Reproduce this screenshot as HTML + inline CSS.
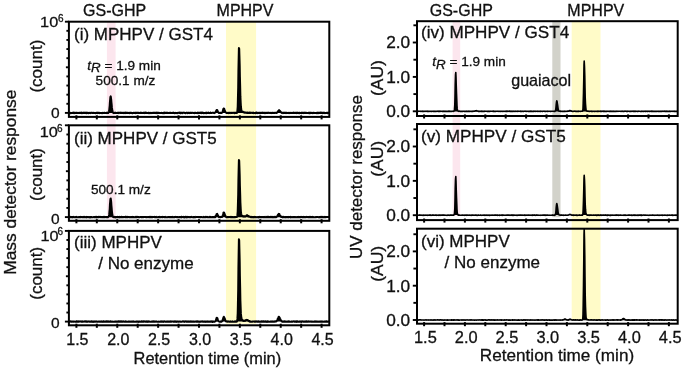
<!DOCTYPE html>
<html><head><meta charset="utf-8"><title>Chromatograms</title>
<style>
html,body{margin:0;padding:0;background:#fff;}
body{width:685px;height:371px;overflow:hidden;}
svg{display:block;will-change:transform;font-family:'Liberation Sans', Arial, Helvetica, sans-serif;fill:#111;} text{stroke:#111;stroke-width:0.3px;}
</style></head><body>
<svg width="685" height="371" viewBox="0 0 685 371">
<rect width="685" height="371" fill="#fff"/>
<rect x="226.0" y="21.7" width="30.1" height="302.1" fill="#fffbc8"/>
<rect x="106.9" y="21.7" width="8.7" height="197.6" fill="#fce6ee"/>
<rect x="571.7" y="21.2" width="28.8" height="298.6" fill="#fffbc8"/>
<rect x="452.6" y="21.2" width="7.6" height="194.8" fill="#fce6ee"/>
<rect x="552.3" y="21.2" width="8.2" height="196.0" fill="#d2d2ca"/>
<polyline fill="#000" stroke="#000" stroke-width="2.0" stroke-linejoin="round" points="68.9,112.99 69.2,113.07 69.4,112.82 69.7,113.11 69.9,112.88 70.2,112.97 70.4,113.12 70.7,112.90 70.9,113.13 71.2,112.93 71.4,113.12 71.7,113.10 71.9,112.94 72.2,112.74 72.4,113.09 72.7,113.04 72.9,112.84 73.2,112.68 73.4,112.86 73.7,112.95 73.9,112.66 74.2,113.13 74.4,112.72 74.7,113.01 74.9,113.08 75.2,113.09 75.4,113.00 75.7,112.74 75.9,113.06 76.2,112.86 76.4,112.83 76.7,112.96 76.9,112.88 77.2,113.12 77.4,113.12 77.7,113.05 77.9,112.81 78.2,112.94 78.4,112.99 78.7,112.86 78.9,112.92 79.2,113.00 79.4,112.75 79.7,112.80 79.9,113.03 80.2,112.86 80.4,112.89 80.7,112.71 80.9,112.79 81.2,113.01 81.4,112.66 81.7,113.09 81.9,112.94 82.2,112.77 82.4,113.07 82.7,112.91 82.9,113.13 83.2,112.82 83.4,112.77 83.7,112.86 83.9,112.71 84.2,112.99 84.4,112.80 84.7,112.85 84.9,112.86 85.2,112.92 85.4,112.73 85.7,112.68 85.9,112.91 86.2,112.82 86.4,113.12 86.7,112.80 86.9,112.83 87.2,112.65 87.4,112.74 87.7,113.01 87.9,112.96 88.2,112.82 88.4,113.14 88.7,112.92 88.9,113.07 89.2,113.09 89.4,113.12 89.7,112.77 89.9,113.09 90.2,113.03 90.4,112.95 90.7,112.71 90.9,113.11 91.2,112.93 91.4,112.88 91.7,112.71 91.9,112.74 92.2,112.72 92.4,113.01 92.7,112.94 92.9,112.97 93.2,112.71 93.4,112.67 93.7,113.07 93.9,113.06 94.2,113.03 94.4,113.03 94.7,112.91 94.9,112.86 95.2,113.02 95.4,113.15 95.7,112.94 95.9,112.97 96.2,112.87 96.4,112.67 96.7,112.80 96.9,112.89 97.2,112.84 97.4,112.81 97.7,113.12 97.9,112.70 98.2,112.76 98.4,112.71 98.7,112.75 98.9,112.95 99.2,112.95 99.4,113.10 99.7,112.83 99.9,113.12 100.2,113.12 100.4,113.05 100.7,113.07 100.9,112.98 101.2,113.12 101.4,113.15 101.7,113.07 101.9,113.10 102.2,112.97 102.4,113.14 102.7,112.71 102.9,112.84 103.2,113.08 103.4,113.02 103.7,112.98 103.9,112.97 104.2,113.09 104.4,112.73 104.7,112.65 104.9,112.92 105.2,112.91 105.4,113.11 105.7,113.10 105.9,112.98 106.2,113.02 106.4,112.74 106.7,113.07 106.9,113.14 107.2,112.67 107.4,112.88 107.7,113.07 107.9,112.85 108.2,113.06 108.4,112.66 108.7,112.10 108.9,111.45 109.2,110.26 109.4,108.43 109.7,105.57 109.9,102.39 110.2,98.98 110.4,96.96 110.7,96.29 110.9,97.45 111.2,99.57 111.4,102.01 111.7,104.79 111.9,107.42 112.2,109.46 112.4,110.87 112.7,111.80 112.9,112.57 113.2,112.68 113.4,112.89 113.7,113.10 113.9,113.13 114.2,113.01 114.4,113.02 114.7,112.80 114.9,112.67 115.2,112.93 115.4,112.68 115.7,112.66 115.9,112.67 116.2,112.97 116.4,113.04 116.7,113.04 116.9,113.05 117.2,113.05 117.4,112.84 117.7,112.70 117.9,112.73 118.2,112.91 118.4,112.82 118.7,112.75 118.9,113.11 119.2,112.82 119.4,112.70 119.7,112.76 119.9,112.77 120.2,112.91 120.4,113.06 120.7,112.76 120.9,112.98 121.2,112.75 121.4,112.66 121.7,112.95 121.9,112.95 122.2,112.68 122.4,112.79 122.7,113.06 122.9,113.09 123.2,113.07 123.4,112.70 123.7,112.75 123.9,113.08 124.2,112.74 124.4,112.66 124.7,112.82 124.9,112.97 125.2,112.88 125.4,113.08 125.7,113.14 125.9,112.66 126.2,112.83 126.4,112.89 126.7,112.68 126.9,112.93 127.2,112.71 127.4,112.74 127.7,113.04 127.9,113.02 128.2,113.00 128.4,113.03 128.7,112.86 128.9,113.02 129.2,112.94 129.4,113.08 129.7,112.69 129.9,112.97 130.2,112.92 130.4,112.86 130.7,112.70 130.9,112.94 131.2,112.69 131.4,112.90 131.7,112.88 131.9,112.89 132.2,113.14 132.4,112.93 132.7,113.06 132.9,113.15 133.2,112.75 133.4,113.06 133.7,112.91 133.9,112.79 134.2,112.87 134.4,112.99 134.7,112.89 134.9,112.87 135.2,112.76 135.4,113.10 135.7,112.87 135.9,113.03 136.2,113.01 136.4,112.76 136.7,112.90 136.9,112.87 137.2,112.77 137.4,112.69 137.7,112.93 137.9,112.84 138.2,112.90 138.4,112.89 138.7,112.80 138.9,112.92 139.2,112.88 139.4,112.91 139.7,112.68 139.9,112.80 140.2,112.71 140.4,112.68 140.7,113.02 140.9,112.87 141.2,112.68 141.4,112.73 141.7,113.08 141.9,113.09 142.2,112.93 142.4,113.11 142.7,113.03 142.9,113.11 143.2,112.82 143.4,112.76 143.7,112.70 143.9,113.07 144.2,112.79 144.4,112.82 144.7,113.08 144.9,112.71 145.2,112.67 145.4,113.04 145.7,112.67 145.9,112.95 146.2,112.91 146.4,112.66 146.7,112.73 146.9,113.07 147.2,112.93 147.4,112.89 147.7,112.98 147.9,113.05 148.2,112.99 148.4,112.79 148.7,113.14 148.9,112.87 149.2,112.93 149.4,113.14 149.7,112.98 149.9,112.84 150.2,112.89 150.4,113.12 150.7,112.66 150.9,112.76 151.2,112.66 151.4,113.10 151.7,113.02 151.9,113.13 152.2,112.76 152.4,113.01 152.7,113.09 152.9,112.94 153.2,112.69 153.4,112.74 153.7,113.02 153.9,113.08 154.2,112.69 154.4,112.86 154.7,112.80 154.9,113.11 155.2,113.12 155.4,112.81 155.7,112.94 155.9,113.11 156.2,112.68 156.4,112.83 156.7,112.75 156.9,113.11 157.2,112.72 157.4,113.12 157.7,112.72 157.9,112.92 158.2,112.98 158.4,112.87 158.7,112.69 158.9,113.02 159.2,113.09 159.4,112.89 159.7,113.03 159.9,113.10 160.2,113.07 160.4,113.12 160.7,113.05 160.9,112.99 161.2,113.00 161.4,112.77 161.7,113.01 161.9,112.90 162.2,113.06 162.4,112.98 162.7,113.14 162.9,113.02 163.2,113.14 163.4,112.78 163.7,112.87 163.9,113.06 164.2,112.91 164.4,112.68 164.7,113.10 164.9,112.74 165.2,112.93 165.4,112.90 165.7,112.73 165.9,112.95 166.2,112.90 166.4,112.81 166.7,112.66 166.9,112.98 167.2,112.73 167.4,112.80 167.7,112.83 167.9,112.95 168.2,112.98 168.4,113.12 168.7,113.09 168.9,113.11 169.2,112.78 169.4,113.02 169.7,113.07 169.9,113.11 170.2,112.73 170.4,112.71 170.7,112.81 170.9,113.01 171.2,113.03 171.4,113.00 171.7,112.92 171.9,113.07 172.2,112.93 172.4,113.02 172.7,112.67 172.9,112.66 173.2,112.88 173.4,113.03 173.7,112.67 173.9,113.00 174.2,112.97 174.4,113.15 174.7,112.96 174.9,112.91 175.2,112.90 175.4,113.05 175.7,112.90 175.9,113.15 176.2,113.02 176.4,113.11 176.7,112.95 176.9,113.13 177.2,113.14 177.4,113.00 177.7,113.03 177.9,112.86 178.2,112.89 178.4,112.77 178.7,112.82 178.9,112.79 179.2,112.71 179.4,112.96 179.7,112.99 179.9,112.66 180.2,113.08 180.4,112.79 180.7,112.83 180.9,113.13 181.2,112.73 181.4,112.70 181.7,112.84 181.9,112.78 182.2,112.74 182.4,113.08 182.7,112.89 182.9,112.90 183.2,112.73 183.4,112.75 183.7,112.74 183.9,112.86 184.2,112.70 184.4,112.81 184.7,112.80 184.9,113.04 185.2,113.13 185.4,113.08 185.7,112.97 185.9,113.10 186.2,112.73 186.4,112.87 186.7,112.84 186.9,112.84 187.2,112.81 187.4,112.91 187.7,113.15 187.9,112.75 188.2,112.78 188.4,112.90 188.7,112.88 188.9,112.82 189.2,113.12 189.4,112.78 189.7,113.02 189.9,113.11 190.2,113.02 190.4,112.79 190.7,113.05 190.9,112.78 191.2,112.66 191.4,112.90 191.7,112.96 191.9,112.91 192.2,112.81 192.4,112.77 192.7,112.84 192.9,112.83 193.2,113.11 193.4,113.08 193.7,113.02 193.9,112.78 194.2,113.00 194.4,112.87 194.7,113.14 194.9,113.12 195.2,113.02 195.4,112.81 195.7,112.80 195.9,112.81 196.2,113.00 196.4,112.89 196.7,112.92 196.9,112.92 197.2,113.09 197.4,112.70 197.7,113.05 197.9,112.66 198.2,112.68 198.4,113.14 198.7,112.92 198.9,112.74 199.2,112.67 199.4,112.93 199.7,113.02 199.9,113.05 200.2,112.68 200.4,113.04 200.7,112.86 200.9,113.08 201.2,112.89 201.4,112.67 201.7,113.08 201.9,112.74 202.2,112.90 202.4,112.71 202.7,112.80 202.9,113.03 203.2,112.70 203.4,112.91 203.7,113.14 203.9,113.15 204.2,112.90 204.4,112.92 204.7,113.00 204.9,113.08 205.2,112.98 205.4,112.99 205.7,112.73 205.9,113.15 206.2,112.77 206.4,112.73 206.7,113.09 206.9,112.69 207.2,112.79 207.4,112.70 207.7,113.01 207.9,112.96 208.2,112.95 208.4,112.65 208.7,112.86 208.9,112.97 209.2,112.94 209.4,113.01 209.7,113.13 209.9,113.10 210.2,112.73 210.4,113.01 210.7,112.68 210.9,113.03 211.2,113.02 211.4,112.89 211.7,113.06 211.9,112.96 212.2,112.67 212.4,112.71 212.7,112.74 212.9,112.83 213.2,112.69 213.4,112.68 213.7,112.88 213.9,112.79 214.2,113.12 214.4,112.78 214.7,112.90 214.9,112.70 215.2,112.64 215.4,112.60 215.7,112.35 215.9,111.37 216.2,111.14 216.4,110.37 216.7,110.05 216.9,110.02 217.2,110.05 217.4,110.39 217.7,111.30 217.9,111.64 218.2,112.26 218.4,112.46 218.7,112.74 218.9,112.97 219.2,113.03 219.4,113.03 219.7,112.69 219.9,112.90 220.2,113.04 220.4,112.70 220.7,112.65 220.9,112.92 221.2,113.06 221.4,113.00 221.7,112.98 221.9,112.71 222.2,112.57 222.4,112.06 222.7,111.42 222.9,110.48 223.2,109.47 223.4,108.80 223.7,108.52 223.9,108.47 224.2,108.70 224.4,109.32 224.7,110.04 224.9,110.92 225.2,111.48 225.4,111.67 225.7,112.49 225.9,112.57 226.2,112.66 226.4,112.64 226.7,113.00 226.9,113.00 227.2,113.02 227.4,112.95 227.7,112.93 227.9,112.67 228.2,112.73 228.4,112.71 228.7,113.14 228.9,113.13 229.2,112.80 229.4,112.70 229.7,112.91 229.9,112.86 230.2,113.15 230.4,112.95 230.7,112.69 230.9,112.74 231.2,112.72 231.4,112.66 231.7,113.03 231.9,113.10 232.2,113.07 232.4,112.89 232.7,112.81 232.9,112.68 233.2,112.79 233.4,112.83 233.7,112.77 233.9,112.92 234.2,112.87 234.4,113.13 234.7,112.76 234.9,113.03 235.2,112.69 235.4,112.83 235.7,113.00 235.9,113.09 236.2,113.02 236.4,112.82 236.7,112.75 236.9,112.88 237.2,112.35 237.4,110.53 237.7,106.71 237.9,99.32 238.2,87.33 238.4,71.65 238.7,57.04 238.9,48.05 239.2,48.61 239.4,54.92 239.7,65.29 239.9,76.76 240.2,87.81 240.4,96.66 240.7,102.86 240.9,106.45 241.2,108.86 241.4,110.31 241.7,111.12 241.9,111.27 242.2,111.42 242.4,111.73 242.7,111.96 242.9,111.88 243.2,111.86 243.4,112.31 243.7,112.49 243.9,112.41 244.2,112.44 244.4,112.37 244.7,112.66 244.9,112.41 245.2,112.48 245.4,112.63 245.7,112.81 245.9,112.46 246.2,112.81 246.4,112.58 246.7,112.89 246.9,112.91 247.2,112.66 247.4,112.90 247.7,112.59 247.9,112.83 248.2,112.99 248.4,112.98 248.7,112.89 248.9,112.77 249.2,112.63 249.4,113.04 249.7,112.92 249.9,113.02 250.2,112.64 250.4,113.06 250.7,113.10 250.9,113.10 251.2,112.94 251.4,112.69 251.7,112.70 251.9,112.77 252.2,112.64 252.4,112.68 252.7,112.98 252.9,113.05 253.2,112.68 253.4,112.77 253.7,113.13 253.9,112.81 254.2,112.96 254.4,112.96 254.7,112.98 254.9,113.06 255.2,113.15 255.4,113.01 255.7,112.97 255.9,112.67 256.1,113.09 256.4,112.67 256.6,113.05 256.9,112.97 257.1,112.74 257.4,112.74 257.6,112.93 257.9,113.12 258.1,112.91 258.4,112.96 258.6,112.69 258.9,113.05 259.1,112.97 259.4,112.70 259.6,113.13 259.9,112.94 260.1,112.74 260.4,112.77 260.6,113.13 260.9,113.13 261.1,113.12 261.4,112.69 261.6,113.02 261.9,112.78 262.1,112.70 262.4,112.98 262.6,113.01 262.9,112.67 263.1,112.84 263.4,113.02 263.6,112.79 263.9,112.99 264.1,113.01 264.4,113.15 264.6,112.77 264.9,112.69 265.1,112.83 265.4,112.68 265.6,113.14 265.9,113.03 266.1,112.91 266.4,112.67 266.6,112.67 266.9,112.96 267.1,113.02 267.4,112.94 267.6,112.90 267.9,112.69 268.1,113.06 268.4,112.75 268.6,112.78 268.9,112.74 269.1,112.76 269.4,112.85 269.6,112.99 269.9,112.99 270.1,112.97 270.4,112.76 270.6,113.11 270.9,113.05 271.1,112.77 271.4,113.03 271.6,113.12 271.9,113.13 272.1,112.87 272.4,112.99 272.6,112.66 272.9,112.71 273.1,112.66 273.4,113.02 273.6,113.11 273.9,113.10 274.1,112.90 274.4,112.80 274.6,112.93 274.9,113.03 275.1,112.94 275.4,112.84 275.6,112.80 275.9,112.75 276.1,112.68 276.4,112.73 276.6,112.93 276.9,112.44 277.1,112.53 277.4,112.14 277.6,111.92 277.9,111.36 278.1,111.24 278.4,110.85 278.6,110.58 278.9,110.49 279.1,110.13 279.4,110.41 279.6,110.77 279.9,111.04 280.1,111.08 280.4,111.66 280.6,112.11 280.9,112.08 281.1,112.37 281.4,112.36 281.6,112.92 281.9,112.80 282.1,112.68 282.4,112.70 282.6,112.68 282.9,113.12 283.1,113.00 283.4,113.09 283.6,113.05 283.9,112.66 284.1,112.86 284.4,112.68 284.6,112.96 284.9,112.72 285.1,112.93 285.4,113.02 285.6,112.76 285.9,112.68 286.1,113.10 286.4,112.85 286.6,112.84 286.9,113.04 287.1,112.97 287.4,113.08 287.6,113.05 287.9,113.02 288.1,112.85 288.4,112.82 288.6,113.05 288.9,113.14 289.1,112.99 289.4,112.81 289.6,113.06 289.9,112.99 290.1,113.05 290.4,112.75 290.6,112.88 290.9,113.12 291.1,113.10 291.4,112.95 291.6,112.87 291.9,112.83 292.1,113.10 292.4,113.07 292.6,112.80 292.9,112.95 293.1,113.01 293.4,113.00 293.6,112.67 293.9,112.99 294.1,112.87 294.4,112.97 294.6,112.94 294.9,112.72 295.1,112.65 295.4,112.97 295.6,113.05 295.9,112.79 296.1,113.05 296.4,113.15 296.6,112.70 296.9,112.94 297.1,112.74 297.4,112.95 297.6,112.71 297.9,112.92 298.1,113.07 298.4,113.14 298.6,112.87 298.9,112.83 299.1,112.70 299.4,113.11 299.6,112.84 299.9,112.96 300.1,112.90 300.4,113.08 300.6,113.01 300.9,112.89 301.1,112.69 301.4,113.10 301.6,112.90 301.9,112.75 302.1,112.67 302.4,113.05 302.6,113.09 302.9,112.68 303.1,112.66 303.4,112.91 303.6,113.12 303.9,112.69 304.1,112.96 304.4,112.70 304.6,112.84 304.9,112.74 305.1,113.07 305.4,112.76 305.6,113.04 305.9,112.95 306.1,112.73 306.4,112.74 306.6,113.06 306.9,113.04 307.1,112.95 307.4,112.89 307.6,112.96 307.9,113.09 308.1,113.03 308.4,112.79 308.6,112.70 308.9,113.13 309.1,112.87 309.4,112.77 309.6,113.13 309.9,112.73 310.1,113.09 310.4,112.85 310.6,112.87 310.9,112.84 311.1,113.00 311.4,112.94 311.6,112.86 311.9,112.94 312.1,112.82 312.4,112.93 312.6,112.93 312.9,113.14 313.1,112.84 313.4,112.91 313.6,113.03 313.9,112.77 314.1,112.76 314.4,112.92 314.6,113.06 314.9,112.91 315.1,113.10 315.4,113.09 315.6,112.93 315.9,113.10 316.1,112.93 316.4,112.89 316.6,113.13 316.9,112.83 317.1,113.11 317.4,112.78 317.6,112.76 317.9,112.89 318.1,113.12 318.4,112.90 318.6,112.96 318.9,112.67 319.1,113.08 319.4,112.72 319.6,112.65 319.9,112.78 320.1,112.74 320.4,113.05 320.6,112.66 320.9,112.90 321.1,112.67 321.4,112.69 321.6,113.07 321.9,112.76 322.1,112.68 322.4,113.12 322.6,112.97 322.9,112.77 323.1,113.07 323.4,112.70 323.6,113.01 323.9,112.74 324.1,113.08 324.4,112.90 324.6,112.69 324.9,113.05 325.1,113.02 325.4,112.90 325.6,112.99 325.9,113.13 326.1,113.06 326.4,113.07 326.6,112.68 326.9,112.81 327.1,112.70 327.4,113.07 327.6,112.76 327.9,113.09 328.1,112.88 328.4,112.83 328.6,112.97 328.9,112.71 329.1,112.87"/>
<polyline fill="#000" stroke="#000" stroke-width="2.0" stroke-linejoin="round" points="68.9,217.06 69.2,216.91 69.4,217.30 69.7,216.85 69.9,217.04 70.2,217.15 70.4,216.95 70.7,217.22 70.9,216.85 71.2,217.06 71.4,217.17 71.7,216.97 71.9,217.13 72.2,217.26 72.4,216.98 72.7,217.33 72.9,216.94 73.2,217.22 73.4,217.03 73.7,216.86 73.9,217.06 74.2,217.02 74.4,217.19 74.7,217.35 74.9,217.33 75.2,217.28 75.4,217.04 75.7,217.13 75.9,217.09 76.2,216.90 76.4,217.28 76.7,217.24 76.9,217.02 77.2,217.34 77.4,217.35 77.7,217.17 77.9,217.30 78.2,217.17 78.4,217.24 78.7,217.06 78.9,217.06 79.2,217.25 79.4,217.04 79.7,217.11 79.9,217.28 80.2,216.88 80.4,217.23 80.7,217.28 80.9,217.30 81.2,217.03 81.4,216.91 81.7,216.96 81.9,217.15 82.2,217.22 82.4,217.34 82.7,217.03 82.9,217.07 83.2,217.17 83.4,217.03 83.7,217.13 83.9,216.88 84.2,216.98 84.4,217.23 84.7,216.90 84.9,217.33 85.2,217.08 85.4,217.15 85.7,217.23 85.9,217.32 86.2,216.96 86.4,217.34 86.7,217.07 86.9,216.88 87.2,217.28 87.4,217.25 87.7,217.05 87.9,217.10 88.2,217.03 88.4,216.94 88.7,217.26 88.9,217.20 89.2,217.20 89.4,217.33 89.7,216.91 89.9,216.96 90.2,216.99 90.4,217.35 90.7,216.93 90.9,216.98 91.2,217.12 91.4,216.98 91.7,217.12 91.9,217.24 92.2,217.30 92.4,217.23 92.7,217.33 92.9,217.18 93.2,216.98 93.4,217.00 93.7,216.93 93.9,216.99 94.2,217.22 94.4,217.07 94.7,217.13 94.9,216.96 95.2,217.09 95.4,217.22 95.7,217.03 95.9,216.87 96.2,217.24 96.4,216.91 96.7,217.34 96.9,217.22 97.2,217.23 97.4,216.98 97.7,216.88 97.9,216.98 98.2,217.19 98.4,216.91 98.7,217.19 98.9,217.23 99.2,216.90 99.4,217.03 99.7,217.00 99.9,217.02 100.2,216.86 100.4,217.12 100.7,216.93 100.9,217.00 101.2,216.92 101.4,217.13 101.7,216.99 101.9,217.06 102.2,217.20 102.4,217.24 102.7,217.04 102.9,217.31 103.2,216.89 103.4,217.28 103.7,217.34 103.9,217.30 104.2,216.89 104.4,217.18 104.7,217.28 104.9,217.34 105.2,217.33 105.4,217.00 105.7,217.03 105.9,217.00 106.2,216.98 106.4,217.32 106.7,217.05 106.9,217.17 107.2,216.94 107.4,216.94 107.7,216.90 107.9,217.29 108.2,216.83 108.4,216.64 108.7,216.25 108.9,215.88 109.2,214.39 109.4,212.15 109.7,209.04 109.9,204.96 110.2,201.49 110.4,199.18 110.7,198.47 110.9,199.62 111.2,202.11 111.4,205.27 111.7,208.48 111.9,211.03 112.2,213.57 112.4,215.09 112.7,216.04 112.9,216.81 113.2,216.99 113.4,217.11 113.7,216.96 113.9,217.15 114.2,217.19 114.4,216.87 114.7,217.10 114.9,216.92 115.2,217.04 115.4,217.33 115.7,217.14 115.9,217.13 116.2,216.96 116.4,217.18 116.7,217.00 116.9,217.08 117.2,217.24 117.4,216.92 117.7,217.30 117.9,216.94 118.2,217.26 118.4,217.35 118.7,217.25 118.9,216.97 119.2,216.86 119.4,217.35 119.7,217.10 119.9,217.10 120.2,216.95 120.4,217.26 120.7,217.10 120.9,217.18 121.2,216.93 121.4,217.22 121.7,216.88 121.9,217.21 122.2,217.24 122.4,217.00 122.7,217.10 122.9,217.30 123.2,217.03 123.4,217.31 123.7,216.96 123.9,217.00 124.2,216.96 124.4,217.04 124.7,217.17 124.9,217.15 125.2,217.15 125.4,216.90 125.7,217.31 125.9,216.91 126.2,217.34 126.4,217.25 126.7,217.22 126.9,216.90 127.2,217.10 127.4,217.16 127.7,216.91 127.9,217.23 128.2,217.12 128.4,217.08 128.7,216.97 128.9,216.97 129.2,217.03 129.4,217.18 129.7,217.19 129.9,217.27 130.2,216.93 130.4,217.02 130.7,216.98 130.9,217.27 131.2,217.13 131.4,216.96 131.7,217.06 131.9,217.29 132.2,217.12 132.4,216.91 132.7,217.23 132.9,217.25 133.2,217.20 133.4,217.00 133.7,216.93 133.9,217.27 134.2,217.27 134.4,217.23 134.7,217.19 134.9,217.09 135.2,217.27 135.4,217.19 135.7,217.26 135.9,216.86 136.2,216.99 136.4,217.30 136.7,216.87 136.9,217.30 137.2,217.16 137.4,216.86 137.7,216.95 137.9,216.98 138.2,217.13 138.4,217.25 138.7,217.03 138.9,217.30 139.2,217.25 139.4,217.16 139.7,217.33 139.9,217.15 140.2,216.95 140.4,217.00 140.7,217.10 140.9,217.03 141.2,217.12 141.4,217.28 141.7,217.05 141.9,217.15 142.2,216.98 142.4,216.90 142.7,217.13 142.9,217.06 143.2,216.98 143.4,217.14 143.7,217.24 143.9,216.99 144.2,216.91 144.4,216.96 144.7,217.00 144.9,216.92 145.2,217.01 145.4,217.03 145.7,217.12 145.9,217.19 146.2,217.04 146.4,217.30 146.7,217.14 146.9,216.96 147.2,216.99 147.4,217.04 147.7,217.22 147.9,217.14 148.2,217.12 148.4,217.04 148.7,217.15 148.9,217.01 149.2,216.88 149.4,217.26 149.7,217.02 149.9,216.96 150.2,217.16 150.4,217.11 150.7,216.86 150.9,217.33 151.2,217.08 151.4,217.27 151.7,216.96 151.9,216.88 152.2,217.09 152.4,217.30 152.7,217.06 152.9,217.08 153.2,216.99 153.4,217.09 153.7,217.03 153.9,216.94 154.2,217.09 154.4,217.14 154.7,216.88 154.9,217.24 155.2,217.01 155.4,217.15 155.7,216.97 155.9,217.29 156.2,216.86 156.4,217.17 156.7,217.32 156.9,217.21 157.2,217.15 157.4,217.34 157.7,217.14 157.9,217.14 158.2,217.00 158.4,217.17 158.7,217.22 158.9,217.24 159.2,216.98 159.4,216.88 159.7,217.09 159.9,217.24 160.2,216.95 160.4,217.15 160.7,217.24 160.9,217.29 161.2,216.96 161.4,216.95 161.7,217.03 161.9,217.12 162.2,217.07 162.4,217.24 162.7,216.87 162.9,217.17 163.2,217.03 163.4,216.94 163.7,216.94 163.9,217.12 164.2,217.20 164.4,217.08 164.7,217.29 164.9,216.93 165.2,217.17 165.4,216.92 165.7,217.22 165.9,217.16 166.2,217.22 166.4,217.14 166.7,217.26 166.9,217.35 167.2,216.99 167.4,217.21 167.7,217.23 167.9,217.20 168.2,217.11 168.4,217.14 168.7,217.03 168.9,217.02 169.2,217.17 169.4,216.89 169.7,216.92 169.9,217.32 170.2,216.94 170.4,216.90 170.7,216.96 170.9,217.28 171.2,216.93 171.4,217.03 171.7,217.34 171.9,217.34 172.2,216.87 172.4,217.02 172.7,217.22 172.9,217.30 173.2,217.28 173.4,217.23 173.7,216.96 173.9,217.18 174.2,217.27 174.4,216.90 174.7,216.95 174.9,217.27 175.2,216.90 175.4,217.05 175.7,216.96 175.9,217.02 176.2,216.90 176.4,216.96 176.7,216.93 176.9,217.25 177.2,217.00 177.4,217.08 177.7,216.98 177.9,217.13 178.2,216.91 178.4,217.07 178.7,217.22 178.9,217.23 179.2,217.28 179.4,217.10 179.7,217.32 179.9,217.12 180.2,217.28 180.4,217.10 180.7,217.10 180.9,217.08 181.2,216.92 181.4,217.35 181.7,216.93 181.9,217.12 182.2,217.07 182.4,217.02 182.7,216.93 182.9,217.16 183.2,217.14 183.4,216.87 183.7,217.31 183.9,217.03 184.2,217.03 184.4,217.34 184.7,217.05 184.9,217.01 185.2,216.88 185.4,217.18 185.7,216.86 185.9,217.09 186.2,217.11 186.4,216.90 186.7,217.33 186.9,216.99 187.2,217.04 187.4,217.18 187.7,216.92 187.9,217.17 188.2,217.11 188.4,217.09 188.7,216.96 188.9,217.24 189.2,217.13 189.4,217.14 189.7,217.07 189.9,216.94 190.2,217.20 190.4,216.94 190.7,217.15 190.9,217.10 191.2,217.21 191.4,217.10 191.7,216.86 191.9,217.02 192.2,216.95 192.4,217.18 192.7,217.19 192.9,217.20 193.2,217.06 193.4,217.03 193.7,216.96 193.9,217.33 194.2,216.99 194.4,216.91 194.7,217.08 194.9,217.33 195.2,217.20 195.4,217.35 195.7,217.26 195.9,216.89 196.2,217.05 196.4,217.02 196.7,216.96 196.9,216.90 197.2,217.04 197.4,217.04 197.7,217.04 197.9,217.00 198.2,217.05 198.4,217.01 198.7,217.24 198.9,217.02 199.2,217.12 199.4,216.97 199.7,217.30 199.9,217.26 200.2,217.33 200.4,216.96 200.7,216.89 200.9,217.02 201.2,217.17 201.4,216.94 201.7,216.96 201.9,217.07 202.2,217.22 202.4,217.20 202.7,217.14 202.9,217.19 203.2,217.13 203.4,217.03 203.7,216.88 203.9,217.32 204.2,217.07 204.4,217.33 204.7,217.29 204.9,216.94 205.2,217.06 205.4,216.89 205.7,217.13 205.9,217.34 206.2,217.16 206.4,217.05 206.7,216.88 206.9,216.86 207.2,217.11 207.4,217.14 207.7,217.30 207.9,217.03 208.2,217.24 208.4,217.27 208.7,217.34 208.9,217.35 209.2,217.01 209.4,217.29 209.7,216.87 209.9,217.31 210.2,216.92 210.4,217.29 210.7,217.34 210.9,216.99 211.2,217.23 211.4,216.98 211.7,217.26 211.9,217.32 212.2,216.96 212.4,216.99 212.7,216.92 212.9,216.99 213.2,217.31 213.4,217.04 213.7,217.00 213.9,217.12 214.2,216.88 214.4,217.22 214.7,216.85 214.9,216.94 215.2,217.20 215.4,217.02 215.7,216.37 215.9,215.79 216.2,215.51 216.4,214.71 216.7,213.98 216.9,214.07 217.2,213.87 217.4,214.47 217.7,215.25 217.9,215.69 218.2,216.10 218.4,216.57 218.7,216.71 218.9,217.13 219.2,216.89 219.4,217.14 219.7,217.02 219.9,217.03 220.2,217.14 220.4,217.16 220.7,216.95 220.9,216.87 221.2,216.94 221.4,217.02 221.7,217.08 221.9,217.05 222.2,216.31 222.4,216.00 222.7,215.30 222.9,214.74 223.2,213.74 223.4,212.80 223.7,212.41 223.9,212.48 224.2,212.92 224.4,213.42 224.7,213.90 224.9,214.91 225.2,215.44 225.4,216.04 225.7,216.29 225.9,216.61 226.2,217.03 226.4,217.26 226.7,217.18 226.9,217.12 227.2,217.05 227.4,216.94 227.7,216.91 227.9,217.33 228.2,216.93 228.4,216.94 228.7,216.92 228.9,217.06 229.2,217.21 229.4,216.92 229.7,216.95 229.9,217.01 230.2,216.89 230.4,217.18 230.7,217.31 230.9,217.07 231.2,216.95 231.4,217.25 231.7,216.97 231.9,216.88 232.2,217.23 232.4,217.05 232.7,217.01 232.9,217.12 233.2,217.25 233.4,217.22 233.7,216.97 233.9,216.95 234.2,217.12 234.4,217.31 234.7,216.95 234.9,216.96 235.2,217.23 235.4,217.06 235.7,216.90 235.9,216.91 236.2,217.09 236.4,217.10 236.7,217.01 236.9,217.07 237.2,216.58 237.4,215.18 237.7,211.58 237.9,205.15 238.2,194.41 238.4,180.84 238.7,167.63 238.9,160.03 239.2,160.64 239.4,165.95 239.7,175.26 239.9,185.61 240.2,194.91 240.4,202.53 240.7,208.31 240.9,211.56 241.2,213.71 241.4,214.72 241.7,215.56 241.9,215.89 242.2,215.63 242.4,215.85 242.7,216.17 242.9,216.23 243.2,216.48 243.4,216.29 243.7,216.53 243.9,216.31 244.2,216.41 244.4,216.37 244.7,216.25 244.9,216.52 245.2,216.51 245.4,216.28 245.7,216.12 245.9,215.99 246.2,215.85 246.4,215.46 246.7,215.22 246.9,215.41 247.2,215.20 247.4,215.31 247.7,215.86 247.9,215.75 248.2,216.03 248.4,216.35 248.7,216.11 248.9,216.62 249.2,216.61 249.4,216.69 249.7,216.62 249.9,216.84 250.2,217.03 250.4,217.04 250.7,217.21 250.9,216.83 251.2,216.83 251.4,217.22 251.7,217.32 251.9,217.21 252.2,217.16 252.4,216.89 252.7,216.89 252.9,216.93 253.2,217.32 253.4,216.95 253.7,216.99 253.9,217.02 254.2,216.85 254.4,217.32 254.7,217.28 254.9,216.97 255.2,216.88 255.4,217.01 255.7,217.20 255.9,217.05 256.1,216.97 256.4,217.30 256.6,217.19 256.9,217.22 257.1,217.29 257.4,217.11 257.6,217.27 257.9,217.23 258.1,217.28 258.4,217.01 258.6,217.34 258.9,216.99 259.1,217.25 259.4,217.33 259.6,216.89 259.9,217.24 260.1,216.88 260.4,216.92 260.6,216.91 260.9,217.28 261.1,217.13 261.4,217.30 261.6,216.89 261.9,216.93 262.1,217.04 262.4,217.12 262.6,217.18 262.9,216.94 263.1,217.11 263.4,217.04 263.6,217.28 263.9,217.24 264.1,217.32 264.4,216.99 264.6,217.07 264.9,217.28 265.1,216.91 265.4,217.22 265.6,217.14 265.9,217.27 266.1,217.21 266.4,216.93 266.6,217.18 266.9,217.27 267.1,217.10 267.4,217.19 267.6,216.90 267.9,217.29 268.1,216.86 268.4,217.32 268.6,216.90 268.9,217.02 269.1,217.24 269.4,217.11 269.6,217.21 269.9,217.22 270.1,217.25 270.4,217.17 270.6,216.85 270.9,216.85 271.1,216.89 271.4,217.30 271.6,217.21 271.9,216.90 272.1,217.32 272.4,216.99 272.6,217.20 272.9,216.86 273.1,217.34 273.4,216.95 273.6,217.18 273.9,217.28 274.1,217.35 274.4,216.93 274.6,217.09 274.9,217.26 275.1,217.13 275.4,216.88 275.6,217.22 275.9,217.02 276.1,217.19 276.4,217.08 276.6,216.65 276.9,216.47 277.1,216.43 277.4,216.11 277.6,215.65 277.9,214.91 278.1,214.51 278.4,214.26 278.6,214.08 278.9,213.86 279.1,213.94 279.4,214.15 279.6,214.62 279.9,215.22 280.1,215.71 280.4,215.77 280.6,216.27 280.9,216.39 281.1,216.93 281.4,216.70 281.6,217.03 281.9,216.84 282.1,216.87 282.4,217.08 282.6,217.33 282.9,216.89 283.1,217.11 283.4,216.91 283.6,217.22 283.9,217.26 284.1,216.93 284.4,217.17 284.6,217.27 284.9,217.16 285.1,217.05 285.4,217.35 285.6,217.09 285.9,217.13 286.1,217.09 286.4,217.29 286.6,216.99 286.9,216.94 287.1,216.92 287.4,217.19 287.6,216.99 287.9,217.16 288.1,216.97 288.4,217.32 288.6,216.91 288.9,216.87 289.1,217.10 289.4,217.09 289.6,217.08 289.9,217.08 290.1,217.34 290.4,216.87 290.6,217.24 290.9,217.26 291.1,217.30 291.4,217.22 291.6,216.94 291.9,217.33 292.1,217.30 292.4,217.00 292.6,217.25 292.9,217.34 293.1,217.05 293.4,217.06 293.6,217.09 293.9,217.00 294.1,217.30 294.4,216.92 294.6,216.99 294.9,217.33 295.1,217.29 295.4,217.10 295.6,217.10 295.9,217.21 296.1,217.29 296.4,217.15 296.6,217.28 296.9,217.05 297.1,216.92 297.4,217.28 297.6,217.06 297.9,216.98 298.1,217.27 298.4,216.94 298.6,216.88 298.9,217.16 299.1,217.14 299.4,216.93 299.6,217.09 299.9,217.15 300.1,216.88 300.4,216.96 300.6,217.18 300.9,217.23 301.1,217.18 301.4,217.13 301.6,216.86 301.9,216.95 302.1,216.89 302.4,216.94 302.6,216.93 302.9,217.32 303.1,217.09 303.4,216.87 303.6,216.88 303.9,217.23 304.1,217.14 304.4,217.03 304.6,217.17 304.9,217.08 305.1,217.32 305.4,217.13 305.6,217.10 305.9,217.34 306.1,217.28 306.4,216.87 306.6,216.96 306.9,216.88 307.1,217.03 307.4,216.95 307.6,216.91 307.9,216.91 308.1,217.33 308.4,217.03 308.6,217.22 308.9,217.01 309.1,217.21 309.4,217.08 309.6,216.89 309.9,217.04 310.1,217.22 310.4,217.09 310.6,217.13 310.9,216.87 311.1,217.21 311.4,217.20 311.6,217.03 311.9,217.29 312.1,217.05 312.4,216.87 312.6,217.09 312.9,217.22 313.1,217.12 313.4,217.08 313.6,217.28 313.9,217.29 314.1,217.28 314.4,217.20 314.6,217.15 314.9,217.21 315.1,217.23 315.4,217.31 315.6,217.08 315.9,216.93 316.1,217.05 316.4,217.06 316.6,217.02 316.9,217.25 317.1,216.99 317.4,217.12 317.6,217.08 317.9,217.04 318.1,217.12 318.4,217.19 318.6,217.23 318.9,217.24 319.1,217.09 319.4,217.16 319.6,217.06 319.9,217.34 320.1,217.17 320.4,216.92 320.6,217.23 320.9,217.07 321.1,217.10 321.4,217.21 321.6,216.86 321.9,217.20 322.1,216.96 322.4,217.27 322.6,217.32 322.9,216.91 323.1,217.13 323.4,217.32 323.6,217.16 323.9,217.13 324.1,216.98 324.4,217.30 324.6,217.24 324.9,216.87 325.1,216.98 325.4,217.27 325.6,217.18 325.9,217.17 326.1,217.01 326.4,217.04 326.6,216.93 326.9,216.94 327.1,217.09 327.4,216.98 327.6,216.98 327.9,216.97 328.1,217.11 328.4,216.96 328.6,217.00 328.9,216.89 329.1,217.29"/>
<polyline fill="#000" stroke="#000" stroke-width="2.0" stroke-linejoin="round" points="68.9,321.41 69.2,321.85 69.4,321.47 69.7,321.56 69.9,321.60 70.2,321.37 70.4,321.56 70.7,321.64 70.9,321.46 71.2,321.41 71.4,321.55 71.7,321.66 71.9,321.62 72.2,321.62 72.4,321.49 72.7,321.70 72.9,321.65 73.2,321.57 73.4,321.66 73.7,321.69 73.9,321.46 74.2,321.43 74.4,321.60 74.7,321.63 74.9,321.76 75.2,321.70 75.4,321.78 75.7,321.56 75.9,321.56 76.2,321.81 76.4,321.39 76.7,321.69 76.9,321.43 77.2,321.43 77.4,321.37 77.7,321.75 77.9,321.64 78.2,321.39 78.4,321.84 78.7,321.83 78.9,321.57 79.2,321.60 79.4,321.39 79.7,321.46 79.9,321.58 80.2,321.35 80.4,321.59 80.7,321.59 80.9,321.51 81.2,321.66 81.4,321.67 81.7,321.55 81.9,321.67 82.2,321.38 82.4,321.51 82.7,321.59 82.9,321.80 83.2,321.66 83.4,321.65 83.7,321.57 83.9,321.56 84.2,321.41 84.4,321.37 84.7,321.61 84.9,321.63 85.2,321.54 85.4,321.35 85.7,321.68 85.9,321.58 86.2,321.44 86.4,321.76 86.7,321.69 86.9,321.36 87.2,321.44 87.4,321.59 87.7,321.79 87.9,321.40 88.2,321.51 88.4,321.44 88.7,321.35 88.9,321.41 89.2,321.64 89.4,321.77 89.7,321.71 89.9,321.59 90.2,321.60 90.4,321.76 90.7,321.76 90.9,321.53 91.2,321.55 91.4,321.67 91.7,321.35 91.9,321.53 92.2,321.83 92.4,321.64 92.7,321.46 92.9,321.70 93.2,321.50 93.4,321.85 93.7,321.70 93.9,321.43 94.2,321.56 94.4,321.52 94.7,321.75 94.9,321.60 95.2,321.57 95.4,321.72 95.7,321.53 95.9,321.58 96.2,321.35 96.4,321.56 96.7,321.64 96.9,321.79 97.2,321.77 97.4,321.47 97.7,321.80 97.9,321.80 98.2,321.76 98.4,321.59 98.7,321.44 98.9,321.54 99.2,321.45 99.4,321.82 99.7,321.84 99.9,321.46 100.2,321.69 100.4,321.49 100.7,321.67 100.9,321.77 101.2,321.72 101.4,321.80 101.7,321.40 101.9,321.56 102.2,321.68 102.4,321.63 102.7,321.66 102.9,321.82 103.2,321.40 103.4,321.56 103.7,321.37 103.9,321.63 104.2,321.54 104.4,321.73 104.7,321.83 104.9,321.38 105.2,321.42 105.4,321.69 105.7,321.40 105.9,321.44 106.2,321.70 106.4,321.55 106.7,321.37 106.9,321.60 107.2,321.38 107.4,321.73 107.7,321.66 107.9,321.49 108.2,321.74 108.4,321.70 108.7,321.41 108.9,321.61 109.2,321.45 109.4,321.73 109.7,321.76 109.9,321.67 110.2,321.76 110.4,321.36 110.7,321.70 110.9,321.57 111.2,321.79 111.4,321.58 111.7,321.66 111.9,321.65 112.2,321.82 112.4,321.79 112.7,321.44 112.9,321.67 113.2,321.73 113.4,321.75 113.7,321.71 113.9,321.73 114.2,321.83 114.4,321.52 114.7,321.68 114.9,321.77 115.2,321.50 115.4,321.80 115.7,321.72 115.9,321.43 116.2,321.79 116.4,321.63 116.7,321.43 116.9,321.45 117.2,321.77 117.4,321.67 117.7,321.49 117.9,321.66 118.2,321.37 118.4,321.75 118.7,321.37 118.9,321.60 119.2,321.74 119.4,321.62 119.7,321.78 119.9,321.50 120.2,321.72 120.4,321.40 120.7,321.56 120.9,321.67 121.2,321.73 121.4,321.55 121.7,321.74 121.9,321.41 122.2,321.79 122.4,321.59 122.7,321.58 122.9,321.71 123.2,321.46 123.4,321.66 123.7,321.52 123.9,321.57 124.2,321.69 124.4,321.66 124.7,321.81 124.9,321.76 125.2,321.42 125.4,321.69 125.7,321.52 125.9,321.80 126.2,321.57 126.4,321.67 126.7,321.60 126.9,321.70 127.2,321.82 127.4,321.69 127.7,321.74 127.9,321.79 128.2,321.49 128.4,321.71 128.7,321.65 128.9,321.40 129.2,321.46 129.4,321.41 129.7,321.42 129.9,321.78 130.2,321.71 130.4,321.84 130.7,321.51 130.9,321.52 131.2,321.67 131.4,321.64 131.7,321.52 131.9,321.50 132.2,321.73 132.4,321.43 132.7,321.67 132.9,321.54 133.2,321.76 133.4,321.79 133.7,321.39 133.9,321.48 134.2,321.49 134.4,321.83 134.7,321.83 134.9,321.77 135.2,321.75 135.4,321.70 135.7,321.66 135.9,321.83 136.2,321.69 136.4,321.53 136.7,321.76 136.9,321.43 137.2,321.56 137.4,321.49 137.7,321.72 137.9,321.63 138.2,321.51 138.4,321.68 138.7,321.85 138.9,321.43 139.2,321.46 139.4,321.71 139.7,321.83 139.9,321.42 140.2,321.55 140.4,321.83 140.7,321.73 140.9,321.79 141.2,321.45 141.4,321.74 141.7,321.39 141.9,321.48 142.2,321.81 142.4,321.50 142.7,321.65 142.9,321.48 143.2,321.44 143.4,321.71 143.7,321.81 143.9,321.38 144.2,321.64 144.4,321.38 144.7,321.50 144.9,321.48 145.2,321.44 145.4,321.54 145.7,321.62 145.9,321.82 146.2,321.50 146.4,321.64 146.7,321.59 146.9,321.39 147.2,321.79 147.4,321.47 147.7,321.83 147.9,321.50 148.2,321.45 148.4,321.72 148.7,321.58 148.9,321.37 149.2,321.53 149.4,321.58 149.7,321.73 149.9,321.82 150.2,321.67 150.4,321.64 150.7,321.75 150.9,321.69 151.2,321.78 151.4,321.50 151.7,321.51 151.9,321.73 152.2,321.73 152.4,321.59 152.7,321.63 152.9,321.38 153.2,321.67 153.4,321.70 153.7,321.41 153.9,321.78 154.2,321.57 154.4,321.68 154.7,321.44 154.9,321.58 155.2,321.47 155.4,321.77 155.7,321.52 155.9,321.55 156.2,321.62 156.4,321.47 156.7,321.43 156.9,321.79 157.2,321.71 157.4,321.67 157.7,321.75 157.9,321.82 158.2,321.71 158.4,321.75 158.7,321.50 158.9,321.63 159.2,321.79 159.4,321.69 159.7,321.62 159.9,321.67 160.2,321.77 160.4,321.81 160.7,321.84 160.9,321.35 161.2,321.47 161.4,321.81 161.7,321.49 161.9,321.36 162.2,321.57 162.4,321.80 162.7,321.61 162.9,321.63 163.2,321.76 163.4,321.58 163.7,321.85 163.9,321.39 164.2,321.53 164.4,321.54 164.7,321.38 164.9,321.52 165.2,321.72 165.4,321.73 165.7,321.78 165.9,321.84 166.2,321.46 166.4,321.43 166.7,321.70 166.9,321.76 167.2,321.53 167.4,321.43 167.7,321.39 167.9,321.77 168.2,321.46 168.4,321.43 168.7,321.48 168.9,321.69 169.2,321.76 169.4,321.44 169.7,321.69 169.9,321.67 170.2,321.57 170.4,321.67 170.7,321.43 170.9,321.73 171.2,321.83 171.4,321.57 171.7,321.54 171.9,321.44 172.2,321.50 172.4,321.40 172.7,321.38 172.9,321.60 173.2,321.60 173.4,321.77 173.7,321.70 173.9,321.56 174.2,321.81 174.4,321.51 174.7,321.77 174.9,321.63 175.2,321.37 175.4,321.81 175.7,321.83 175.9,321.63 176.2,321.75 176.4,321.49 176.7,321.85 176.9,321.43 177.2,321.42 177.4,321.46 177.7,321.64 177.9,321.71 178.2,321.52 178.4,321.59 178.7,321.64 178.9,321.68 179.2,321.63 179.4,321.52 179.7,321.44 179.9,321.40 180.2,321.77 180.4,321.70 180.7,321.63 180.9,321.57 181.2,321.68 181.4,321.75 181.7,321.81 181.9,321.69 182.2,321.62 182.4,321.36 182.7,321.40 182.9,321.42 183.2,321.36 183.4,321.37 183.7,321.54 183.9,321.44 184.2,321.82 184.4,321.51 184.7,321.55 184.9,321.70 185.2,321.56 185.4,321.37 185.7,321.61 185.9,321.53 186.2,321.70 186.4,321.68 186.7,321.41 186.9,321.84 187.2,321.76 187.4,321.51 187.7,321.63 187.9,321.81 188.2,321.52 188.4,321.66 188.7,321.56 188.9,321.64 189.2,321.59 189.4,321.57 189.7,321.65 189.9,321.79 190.2,321.76 190.4,321.41 190.7,321.58 190.9,321.79 191.2,321.42 191.4,321.72 191.7,321.80 191.9,321.58 192.2,321.72 192.4,321.61 192.7,321.57 192.9,321.74 193.2,321.56 193.4,321.79 193.7,321.59 193.9,321.56 194.2,321.81 194.4,321.65 194.7,321.81 194.9,321.63 195.2,321.42 195.4,321.57 195.7,321.49 195.9,321.47 196.2,321.79 196.4,321.35 196.7,321.49 196.9,321.80 197.2,321.43 197.4,321.65 197.7,321.76 197.9,321.37 198.2,321.57 198.4,321.46 198.7,321.78 198.9,321.46 199.2,321.82 199.4,321.73 199.7,321.66 199.9,321.84 200.2,321.55 200.4,321.74 200.7,321.70 200.9,321.50 201.2,321.64 201.4,321.41 201.7,321.54 201.9,321.41 202.2,321.57 202.4,321.39 202.7,321.41 202.9,321.77 203.2,321.48 203.4,321.68 203.7,321.47 203.9,321.51 204.2,321.44 204.4,321.79 204.7,321.66 204.9,321.48 205.2,321.38 205.4,321.49 205.7,321.83 205.9,321.55 206.2,321.80 206.4,321.58 206.7,321.45 206.9,321.79 207.2,321.39 207.4,321.51 207.7,321.72 207.9,321.75 208.2,321.63 208.4,321.43 208.7,321.56 208.9,321.79 209.2,321.84 209.4,321.79 209.7,321.45 209.9,321.76 210.2,321.57 210.4,321.70 210.7,321.51 210.9,321.66 211.2,321.78 211.4,321.41 211.7,321.58 211.9,321.51 212.2,321.45 212.4,321.38 212.7,321.84 212.9,321.68 213.2,321.77 213.4,321.60 213.7,321.41 213.9,321.45 214.2,321.83 214.4,321.75 214.7,321.42 214.9,321.44 215.2,321.48 215.4,321.21 215.7,320.96 215.9,319.99 216.2,319.40 216.4,318.31 216.7,317.79 216.9,317.81 217.2,317.87 217.4,318.44 217.7,318.81 217.9,319.71 218.2,320.63 218.4,321.06 218.7,321.29 218.9,321.43 219.2,321.48 219.4,321.62 219.7,321.66 219.9,321.84 220.2,321.56 220.4,321.68 220.7,321.84 220.9,321.61 221.2,321.34 221.4,321.78 221.7,321.65 221.9,321.24 222.2,321.17 222.4,320.72 222.7,319.96 222.9,319.28 223.2,318.26 223.4,317.53 223.7,316.85 223.9,316.78 224.2,317.55 224.4,317.85 224.7,318.46 224.9,319.16 225.2,319.90 225.4,320.52 225.7,320.92 225.9,321.33 226.2,321.53 226.4,321.37 226.7,321.38 226.9,321.36 227.2,321.50 227.4,321.70 227.7,321.47 227.9,321.48 228.2,321.60 228.4,321.53 228.7,321.67 228.9,321.57 229.2,321.65 229.4,321.82 229.7,321.68 229.9,321.69 230.2,321.36 230.4,321.61 230.7,321.67 230.9,321.73 231.2,321.73 231.4,321.68 231.7,321.78 231.9,321.85 232.2,321.41 232.4,321.62 232.7,321.63 232.9,321.57 233.2,321.70 233.4,321.77 233.7,321.82 233.9,321.70 234.2,321.70 234.4,321.49 234.7,321.57 234.9,321.38 235.2,321.68 235.4,321.39 235.7,321.56 235.9,321.81 236.2,321.76 236.4,321.55 236.7,321.29 236.9,321.40 237.2,320.49 237.4,318.65 237.7,313.61 237.9,304.51 238.2,288.98 238.4,269.12 238.7,250.51 238.9,239.30 239.2,240.23 239.4,248.49 239.7,261.39 239.9,275.89 240.2,289.89 240.4,300.88 240.7,308.85 240.9,313.65 241.2,316.43 241.4,318.12 241.7,319.19 241.9,319.41 242.2,319.60 242.4,320.01 242.7,320.46 242.9,320.25 243.2,320.35 243.4,320.73 243.7,320.92 243.9,320.97 244.2,320.83 244.4,320.67 244.7,320.76 244.9,320.55 245.2,320.81 245.4,320.61 245.7,320.24 245.9,320.13 246.2,320.10 246.4,319.84 246.7,319.93 246.9,320.06 247.2,319.93 247.4,320.20 247.7,320.05 247.9,320.35 248.2,320.46 248.4,320.59 248.7,320.94 248.9,321.00 249.2,321.37 249.4,321.03 249.7,321.31 249.9,321.17 250.2,321.69 250.4,321.45 250.7,321.42 250.9,321.64 251.2,321.77 251.4,321.75 251.7,321.76 251.9,321.45 252.2,321.79 252.4,321.43 252.7,321.63 252.9,321.57 253.2,321.55 253.4,321.57 253.7,321.52 253.9,321.54 254.2,321.68 254.4,321.48 254.7,321.72 254.9,321.49 255.2,321.47 255.4,321.46 255.7,321.69 255.9,321.46 256.1,321.36 256.4,321.62 256.6,321.71 256.9,321.59 257.1,321.38 257.4,321.78 257.6,321.84 257.9,321.61 258.1,321.52 258.4,321.46 258.6,321.67 258.9,321.35 259.1,321.74 259.4,321.47 259.6,321.80 259.9,321.84 260.1,321.78 260.4,321.82 260.6,321.60 260.9,321.57 261.1,321.76 261.4,321.38 261.6,321.67 261.9,321.78 262.1,321.76 262.4,321.48 262.6,321.39 262.9,321.77 263.1,321.84 263.4,321.46 263.6,321.73 263.9,321.36 264.1,321.60 264.4,321.53 264.6,321.68 264.9,321.45 265.1,321.62 265.4,321.69 265.6,321.40 265.9,321.80 266.1,321.48 266.4,321.82 266.6,321.53 266.9,321.65 267.1,321.42 267.4,321.82 267.6,321.57 267.9,321.65 268.1,321.39 268.4,321.38 268.6,321.54 268.9,321.74 269.1,321.72 269.4,321.72 269.6,321.63 269.9,321.73 270.1,321.75 270.4,321.47 270.6,321.53 270.9,321.70 271.1,321.35 271.4,321.74 271.6,321.57 271.9,321.77 272.1,321.42 272.4,321.42 272.6,321.72 272.9,321.47 273.1,321.44 273.4,321.71 273.6,321.68 273.9,321.61 274.1,321.40 274.4,321.77 274.6,321.51 274.9,321.55 275.1,321.61 275.4,321.53 275.6,321.35 275.9,321.63 276.1,321.21 276.4,321.32 276.6,320.89 276.9,320.54 277.1,320.46 277.4,319.60 277.6,318.94 277.9,318.66 278.1,318.19 278.4,317.65 278.6,316.88 278.9,317.25 279.1,316.88 279.4,317.52 279.6,317.62 279.9,318.44 280.1,318.94 280.4,319.23 280.6,320.04 280.9,320.36 281.1,320.44 281.4,320.84 281.6,320.98 281.9,321.08 282.1,321.66 282.4,321.63 282.6,321.40 282.9,321.47 283.1,321.81 283.4,321.59 283.6,321.73 283.9,321.63 284.1,321.80 284.4,321.84 284.6,321.35 284.9,321.69 285.1,321.41 285.4,321.79 285.6,321.61 285.9,321.78 286.1,321.64 286.4,321.76 286.6,321.51 286.9,321.78 287.1,321.48 287.4,321.60 287.6,321.79 287.9,321.67 288.1,321.60 288.4,321.39 288.6,321.68 288.9,321.74 289.1,321.37 289.4,321.41 289.6,321.48 289.9,321.71 290.1,321.76 290.4,321.72 290.6,321.82 290.9,321.83 291.1,321.60 291.4,321.65 291.6,321.57 291.9,321.67 292.1,321.84 292.4,321.51 292.6,321.52 292.9,321.58 293.1,321.58 293.4,321.50 293.6,321.36 293.9,321.41 294.1,321.49 294.4,321.65 294.6,321.69 294.9,321.64 295.1,321.36 295.4,321.66 295.6,321.66 295.9,321.65 296.1,321.78 296.4,321.35 296.6,321.85 296.9,321.55 297.1,321.39 297.4,321.72 297.6,321.54 297.9,321.66 298.1,321.73 298.4,321.75 298.6,321.79 298.9,321.43 299.1,321.46 299.4,321.40 299.6,321.83 299.9,321.50 300.1,321.69 300.4,321.53 300.6,321.58 300.9,321.69 301.1,321.36 301.4,321.85 301.6,321.48 301.9,321.42 302.1,321.59 302.4,321.55 302.6,321.35 302.9,321.73 303.1,321.54 303.4,321.48 303.6,321.66 303.9,321.49 304.1,321.65 304.4,321.59 304.6,321.54 304.9,321.51 305.1,321.69 305.4,321.54 305.6,321.58 305.9,321.74 306.1,321.54 306.4,321.72 306.6,321.40 306.9,321.61 307.1,321.49 307.4,321.59 307.6,321.61 307.9,321.74 308.1,321.78 308.4,321.39 308.6,321.59 308.9,321.59 309.1,321.59 309.4,321.44 309.6,321.73 309.9,321.76 310.1,321.44 310.4,321.62 310.6,321.53 310.9,321.44 311.1,321.40 311.4,321.42 311.6,321.83 311.9,321.66 312.1,321.43 312.4,321.44 312.6,321.79 312.9,321.77 313.1,321.72 313.4,321.80 313.6,321.67 313.9,321.45 314.1,321.59 314.4,321.62 314.6,321.81 314.9,321.65 315.1,321.35 315.4,321.50 315.6,321.63 315.9,321.61 316.1,321.45 316.4,321.47 316.6,321.78 316.9,321.51 317.1,321.67 317.4,321.59 317.6,321.73 317.9,321.66 318.1,321.68 318.4,321.66 318.6,321.84 318.9,321.75 319.1,321.56 319.4,321.82 319.6,321.76 319.9,321.49 320.1,321.71 320.4,321.69 320.6,321.73 320.9,321.43 321.1,321.80 321.4,321.53 321.6,321.42 321.9,321.75 322.1,321.64 322.4,321.45 322.6,321.54 322.9,321.66 323.1,321.83 323.4,321.63 323.6,321.67 323.9,321.49 324.1,321.70 324.4,321.65 324.6,321.53 324.9,321.44 325.1,321.67 325.4,321.66 325.6,321.56 325.9,321.39 326.1,321.75 326.4,321.36 326.6,321.49 326.9,321.66 327.1,321.52 327.4,321.69 327.6,321.81 327.9,321.47 328.1,321.66 328.4,321.59 328.6,321.60 328.9,321.40 329.1,321.47"/>
<polyline fill="#000" stroke="#000" stroke-width="1.6" stroke-linejoin="round" points="417.0,111.44 417.2,111.27 417.5,111.31 417.8,111.31 418.0,111.20 418.2,111.33 418.5,111.31 418.8,111.18 419.0,111.32 419.2,111.30 419.5,111.30 419.8,111.20 420.0,111.25 420.2,111.23 420.5,111.33 420.8,111.44 421.0,111.25 421.2,111.28 421.5,111.22 421.8,111.22 422.0,111.41 422.2,111.38 422.5,111.43 422.8,111.20 423.0,111.42 423.2,111.42 423.5,111.22 423.8,111.28 424.0,111.43 424.2,111.25 424.5,111.24 424.8,111.31 425.0,111.43 425.2,111.24 425.5,111.32 425.8,111.27 426.0,111.15 426.2,111.20 426.5,111.19 426.8,111.41 427.0,111.35 427.2,111.29 427.5,111.45 427.8,111.15 428.0,111.37 428.2,111.37 428.5,111.36 428.8,111.37 429.0,111.19 429.2,111.28 429.5,111.30 429.8,111.32 430.0,111.43 430.2,111.36 430.5,111.19 430.8,111.21 431.0,111.19 431.2,111.37 431.5,111.39 431.8,111.43 432.0,111.29 432.2,111.34 432.5,111.31 432.8,111.30 433.0,111.27 433.2,111.34 433.5,111.21 433.8,111.39 434.0,111.17 434.2,111.28 434.5,111.43 434.8,111.36 435.0,111.29 435.2,111.33 435.5,111.28 435.8,111.35 436.0,111.37 436.2,111.21 436.5,111.36 436.8,111.24 437.0,111.21 437.2,111.27 437.5,111.31 437.8,111.17 438.0,111.32 438.2,111.19 438.5,111.43 438.8,111.32 439.0,111.26 439.2,111.44 439.5,111.19 439.8,111.43 440.0,111.27 440.2,111.40 440.5,111.17 440.8,111.28 441.0,111.21 441.2,111.30 441.5,111.25 441.8,111.25 442.0,111.36 442.2,111.39 442.5,111.20 442.8,111.41 443.0,111.17 443.2,111.39 443.5,111.42 443.8,111.42 444.0,111.21 444.2,111.16 444.5,111.33 444.8,111.25 445.0,111.37 445.2,111.18 445.5,111.24 445.8,111.40 446.0,111.43 446.2,111.24 446.5,111.44 446.8,111.20 447.0,111.36 447.2,111.38 447.5,111.28 447.8,111.35 448.0,111.28 448.2,111.40 448.5,111.18 448.8,111.35 449.0,111.20 449.2,111.40 449.5,111.21 449.8,111.16 450.0,111.33 450.2,111.44 450.5,111.34 450.8,111.26 451.0,111.38 451.2,111.29 451.5,111.42 451.8,111.31 452.0,111.23 452.2,111.32 452.5,111.25 452.8,111.42 453.0,111.20 453.2,111.41 453.5,111.17 453.8,111.13 454.0,111.05 454.2,110.71 454.5,109.16 454.8,104.88 455.0,96.48 455.2,85.09 455.5,74.89 455.8,72.44 456.0,76.69 456.2,84.33 456.5,93.07 456.8,100.47 457.0,105.71 457.2,108.65 457.5,110.07 457.8,110.53 458.0,110.82 458.2,111.13 458.5,110.99 458.8,111.31 459.0,111.17 459.2,111.08 459.5,111.29 459.8,111.12 460.0,111.22 460.2,111.41 460.5,111.33 460.8,111.30 461.0,111.36 461.2,111.22 461.5,111.39 461.8,111.21 462.0,111.36 462.2,111.43 462.5,111.28 462.8,111.42 463.0,111.28 463.2,111.21 463.5,111.27 463.8,111.31 464.0,111.44 464.2,111.30 464.5,111.42 464.8,111.26 465.0,111.41 465.2,111.28 465.5,111.34 465.8,111.34 466.0,111.25 466.2,111.40 466.5,111.40 466.8,111.17 467.0,111.35 467.2,111.20 467.5,111.19 467.8,111.31 468.0,111.41 468.2,111.42 468.5,111.19 468.8,111.41 469.0,111.30 469.2,111.29 469.5,111.41 469.8,111.31 470.0,111.40 470.2,111.29 470.5,111.30 470.8,111.34 471.0,111.39 471.2,111.33 471.5,111.39 471.8,111.41 472.0,111.38 472.2,111.19 472.5,111.30 472.8,111.18 473.0,111.44 473.2,111.15 473.5,111.28 473.8,111.16 474.0,111.20 474.2,111.11 474.5,111.19 474.8,110.95 475.0,111.04 475.2,110.92 475.5,110.91 475.8,110.75 476.0,110.69 476.2,110.78 476.5,110.64 476.8,110.94 477.0,110.87 477.2,111.05 477.5,111.02 477.8,111.03 478.0,111.10 478.2,111.34 478.5,111.32 478.8,111.24 479.0,111.14 479.2,111.43 479.5,111.26 479.8,111.24 480.0,111.20 480.2,111.35 480.5,111.21 480.8,111.31 481.0,111.17 481.2,111.45 481.5,111.17 481.8,111.33 482.0,111.33 482.2,111.42 482.5,111.38 482.8,111.23 483.0,111.25 483.2,111.40 483.5,111.35 483.8,111.41 484.0,111.39 484.2,111.38 484.5,111.35 484.8,111.16 485.0,111.15 485.2,111.21 485.5,111.31 485.8,111.30 486.0,111.22 486.2,111.18 486.5,111.22 486.8,111.26 487.0,111.39 487.2,111.26 487.5,111.20 487.8,111.21 488.0,111.42 488.2,111.23 488.5,111.35 488.8,111.40 489.0,111.16 489.2,111.25 489.5,111.23 489.8,111.41 490.0,111.20 490.2,111.17 490.5,111.18 490.8,111.23 491.0,111.20 491.2,111.21 491.5,111.27 491.8,111.32 492.0,111.20 492.2,111.21 492.5,111.19 492.8,111.36 493.0,111.16 493.2,111.29 493.5,111.17 493.8,111.42 494.0,111.16 494.2,111.21 494.5,111.37 494.8,111.20 495.0,111.38 495.2,111.39 495.5,111.31 495.8,111.38 496.0,111.30 496.2,111.18 496.5,111.24 496.8,111.24 497.0,111.33 497.2,111.21 497.5,111.21 497.8,111.25 498.0,111.17 498.2,111.20 498.5,111.33 498.8,111.42 499.0,111.25 499.2,111.20 499.5,111.35 499.8,111.27 500.0,111.20 500.2,111.21 500.5,111.45 500.8,111.30 501.0,111.45 501.2,111.42 501.5,111.21 501.8,111.32 502.0,111.27 502.2,111.31 502.5,111.35 502.8,111.39 503.0,111.34 503.2,111.20 503.5,111.26 503.8,111.36 504.0,111.42 504.2,111.37 504.5,111.24 504.8,111.32 505.0,111.25 505.2,111.21 505.5,111.41 505.8,111.25 506.0,111.44 506.2,111.20 506.5,111.39 506.8,111.37 507.0,111.16 507.2,111.34 507.5,111.38 507.8,111.18 508.0,111.27 508.2,111.18 508.5,111.33 508.8,111.30 509.0,111.16 509.2,111.30 509.5,111.15 509.8,111.39 510.0,111.20 510.2,111.40 510.5,111.29 510.8,111.45 511.0,111.40 511.2,111.17 511.5,111.31 511.8,111.21 512.0,111.37 512.2,111.34 512.5,111.42 512.8,111.28 513.0,111.19 513.2,111.30 513.5,111.34 513.8,111.17 514.0,111.18 514.2,111.25 514.5,111.43 514.8,111.26 515.0,111.32 515.2,111.16 515.5,111.34 515.8,111.25 516.0,111.26 516.2,111.34 516.5,111.29 516.8,111.25 517.0,111.18 517.2,111.30 517.5,111.34 517.8,111.16 518.0,111.43 518.2,111.20 518.5,111.24 518.8,111.28 519.0,111.32 519.2,111.22 519.5,111.18 519.8,111.23 520.0,111.23 520.2,111.44 520.5,111.35 520.8,111.41 521.0,111.16 521.2,111.18 521.5,111.41 521.8,111.27 522.0,111.28 522.2,111.44 522.5,111.33 522.8,111.23 523.0,111.26 523.2,111.37 523.5,111.22 523.8,111.36 524.0,111.29 524.2,111.32 524.5,111.16 524.8,111.26 525.0,111.21 525.2,111.25 525.5,111.34 525.8,111.16 526.0,111.24 526.2,111.24 526.5,111.37 526.8,111.40 527.0,111.28 527.2,111.20 527.5,111.21 527.8,111.35 528.0,111.41 528.2,111.30 528.5,111.19 528.8,111.40 529.0,111.23 529.2,111.40 529.5,111.36 529.8,111.43 530.0,111.36 530.2,111.34 530.5,111.16 530.8,111.16 531.0,111.39 531.2,111.36 531.5,111.17 531.8,111.39 532.0,111.35 532.2,111.32 532.5,111.42 532.8,111.37 533.0,111.33 533.2,111.33 533.5,111.16 533.8,111.37 534.0,111.39 534.2,111.18 534.5,111.31 534.8,111.20 535.0,111.26 535.2,111.22 535.5,111.36 535.8,111.40 536.0,111.22 536.2,111.31 536.5,111.28 536.8,111.25 537.0,111.22 537.2,111.37 537.5,111.34 537.8,111.17 538.0,111.29 538.2,111.36 538.5,111.26 538.8,111.37 539.0,111.22 539.2,111.44 539.5,111.20 539.8,111.28 540.0,111.34 540.2,111.17 540.5,111.37 540.8,111.38 541.0,111.43 541.2,111.29 541.5,111.22 541.8,111.25 542.0,111.33 542.2,111.21 542.5,111.42 542.8,111.36 543.0,111.26 543.2,111.16 543.5,111.26 543.8,111.24 544.0,111.22 544.2,111.33 544.5,111.17 544.8,111.23 545.0,111.35 545.2,111.33 545.5,111.21 545.8,111.35 546.0,111.39 546.2,111.19 546.5,111.29 546.8,111.29 547.0,111.25 547.2,111.18 547.5,111.41 547.8,111.35 548.0,111.43 548.2,111.33 548.5,111.30 548.8,111.19 549.0,111.25 549.2,111.28 549.5,111.33 549.8,111.28 550.0,111.37 550.2,111.20 550.5,111.21 550.8,111.20 551.0,111.40 551.2,111.25 551.5,111.22 551.8,111.30 552.0,111.18 552.2,111.18 552.5,111.23 552.8,111.20 553.0,111.26 553.2,111.19 553.5,111.41 553.8,111.24 554.0,111.24 554.2,111.27 554.5,111.36 554.8,111.40 555.0,111.15 555.2,110.83 555.5,110.36 555.8,109.12 556.0,107.07 556.2,104.52 556.5,101.98 556.8,100.69 557.0,101.18 557.2,102.62 557.5,104.34 557.8,106.45 558.0,107.92 558.2,109.36 558.5,110.32 558.8,110.64 559.0,111.06 559.2,111.16 559.5,111.30 559.8,111.22 560.0,111.21 560.2,111.15 560.5,111.39 560.8,111.16 561.0,111.39 561.2,111.36 561.5,111.24 561.8,111.33 562.0,111.34 562.2,111.27 562.5,111.38 562.8,111.20 563.0,111.38 563.2,111.19 563.5,111.20 563.8,111.29 564.0,111.44 564.2,111.21 564.5,111.44 564.8,111.30 565.0,111.32 565.2,111.43 565.5,111.26 565.8,111.23 566.0,111.27 566.2,111.33 566.5,111.30 566.8,111.27 567.0,111.38 567.2,111.19 567.5,111.15 567.8,111.19 568.0,111.13 568.2,111.28 568.5,111.02 568.8,111.19 569.0,110.94 569.2,110.89 569.5,110.66 569.8,110.48 570.0,110.44 570.2,110.54 570.5,110.66 570.8,110.82 571.0,110.89 571.2,111.05 571.5,111.18 571.8,111.10 572.0,111.22 572.2,111.28 572.5,111.37 572.8,111.23 573.0,111.39 573.2,111.37 573.5,111.28 573.8,111.24 574.0,111.16 574.2,111.23 574.5,111.17 574.8,111.17 575.0,111.23 575.2,111.23 575.5,111.43 575.8,111.39 576.0,111.45 576.2,111.19 576.5,111.23 576.8,111.26 577.0,111.37 577.2,111.34 577.5,111.40 577.8,111.26 578.0,111.15 578.2,111.36 578.5,111.44 578.8,111.40 579.0,111.34 579.2,111.18 579.5,111.21 579.8,111.31 580.0,111.42 580.2,111.42 580.5,111.40 580.8,111.22 581.0,111.31 581.2,111.15 581.5,111.18 581.8,111.21 582.0,111.30 582.2,111.18 582.5,111.26 582.8,110.66 583.0,108.45 583.2,102.99 583.5,92.43 583.8,77.69 584.0,64.83 584.2,61.06 584.5,66.64 584.8,76.48 585.0,87.58 585.2,97.22 585.5,103.70 585.8,107.62 586.0,109.39 586.2,110.23 586.5,110.82 586.8,111.03 587.0,111.07 587.2,111.03 587.5,111.15 587.8,111.30 588.0,111.09 588.2,111.13 588.5,111.24 588.8,111.38 589.0,111.14 589.2,111.26 589.5,111.40 589.8,111.33 590.0,111.25 590.2,111.17 590.5,111.30 590.8,111.25 591.0,111.38 591.2,111.37 591.5,111.17 591.8,111.33 592.0,111.42 592.2,111.27 592.5,111.41 592.8,111.39 593.0,111.31 593.2,111.27 593.5,111.26 593.8,111.24 594.0,111.32 594.2,111.43 594.5,111.23 594.8,111.43 595.0,111.31 595.2,111.33 595.5,111.25 595.8,111.24 596.0,111.38 596.2,111.26 596.5,111.24 596.8,111.31 597.0,111.41 597.2,111.18 597.5,111.27 597.8,111.43 598.0,111.38 598.2,111.15 598.5,111.38 598.8,111.33 599.0,111.21 599.2,111.20 599.5,111.26 599.8,111.23 600.0,111.44 600.2,111.42 600.5,111.16 600.8,111.21 601.0,111.44 601.2,111.44 601.5,111.38 601.8,111.17 602.0,111.38 602.2,111.25 602.5,111.17 602.8,111.26 603.0,111.17 603.2,111.37 603.5,111.40 603.8,111.44 604.0,111.22 604.2,111.42 604.5,111.16 604.8,111.24 605.0,111.39 605.2,111.21 605.5,111.40 605.8,111.30 606.0,111.42 606.2,111.21 606.5,111.18 606.8,111.18 607.0,111.45 607.2,111.19 607.5,111.28 607.8,111.20 608.0,111.30 608.2,111.26 608.5,111.27 608.8,111.21 609.0,111.43 609.2,111.43 609.5,111.29 609.8,111.36 610.0,111.33 610.2,111.45 610.5,111.23 610.8,111.44 611.0,111.20 611.2,111.21 611.5,111.31 611.8,111.41 612.0,111.25 612.2,111.39 612.5,111.32 612.8,111.42 613.0,111.16 613.2,111.29 613.5,111.34 613.8,111.42 614.0,111.23 614.2,111.20 614.5,111.20 614.8,111.42 615.0,111.34 615.2,111.36 615.5,111.22 615.8,111.41 616.0,111.27 616.2,111.16 616.5,111.22 616.8,111.45 617.0,111.43 617.2,111.42 617.5,111.24 617.8,111.27 618.0,111.29 618.2,111.31 618.5,111.33 618.8,111.27 619.0,111.26 619.2,111.18 619.5,111.23 619.8,111.21 620.0,111.18 620.2,111.20 620.5,111.23 620.8,111.44 621.0,111.25 621.2,111.20 621.5,111.32 621.8,111.19 622.0,111.40 622.2,111.17 622.5,111.32 622.8,111.24 623.0,111.37 623.2,111.36 623.5,111.35 623.8,111.35 624.0,111.42 624.2,111.32 624.5,111.16 624.8,111.25 625.0,111.17 625.2,111.22 625.5,111.20 625.8,111.15 626.0,111.22 626.2,111.37 626.5,111.38 626.8,111.33 627.0,111.44 627.2,111.38 627.5,111.18 627.8,111.17 628.0,111.35 628.2,111.22 628.5,111.22 628.8,111.18 629.0,111.21 629.2,111.29 629.5,111.42 629.8,111.20 630.0,111.36 630.2,111.26 630.5,111.34 630.8,111.29 631.0,111.16 631.2,111.40 631.5,111.29 631.8,111.26 632.0,111.29 632.2,111.17 632.5,111.33 632.8,111.18 633.0,111.24 633.2,111.16 633.5,111.42 633.8,111.39 634.0,111.36 634.2,111.18 634.5,111.45 634.8,111.37 635.0,111.24 635.2,111.15 635.5,111.40 635.8,111.32 636.0,111.24 636.2,111.24 636.5,111.23 636.8,111.22 637.0,111.38 637.2,111.37 637.5,111.44 637.8,111.24 638.0,111.39 638.2,111.37 638.5,111.16 638.8,111.26 639.0,111.27 639.2,111.25 639.5,111.27 639.8,111.24 640.0,111.36 640.2,111.43 640.5,111.43 640.8,111.45 641.0,111.34 641.2,111.41 641.5,111.42 641.8,111.30 642.0,111.16 642.2,111.24 642.5,111.37 642.8,111.22 643.0,111.40 643.2,111.42 643.5,111.36 643.8,111.33 644.0,111.24 644.2,111.32 644.5,111.23 644.8,111.42 645.0,111.17 645.2,111.35 645.5,111.20 645.8,111.44 646.0,111.20 646.2,111.38 646.5,111.19 646.8,111.21 647.0,111.25 647.2,111.37 647.5,111.45 647.8,111.39 648.0,111.18 648.2,111.40 648.5,111.25 648.8,111.27 649.0,111.25 649.2,111.40 649.5,111.41 649.8,111.42 650.0,111.16 650.2,111.34 650.5,111.25 650.8,111.28 651.0,111.38 651.2,111.43 651.5,111.45 651.8,111.19 652.0,111.41 652.2,111.16 652.5,111.34 652.8,111.23 653.0,111.41 653.2,111.21 653.5,111.37 653.8,111.34 654.0,111.29 654.2,111.42 654.5,111.38 654.8,111.21 655.0,111.36 655.2,111.34 655.5,111.22 655.8,111.38 656.0,111.39 656.2,111.38 656.5,111.33 656.8,111.34 657.0,111.26 657.2,111.31 657.5,111.19 657.8,111.43 658.0,111.25 658.2,111.20 658.5,111.38 658.8,111.44 659.0,111.32 659.2,111.42 659.5,111.31 659.8,111.24 660.0,111.42 660.2,111.41 660.5,111.31 660.8,111.40 661.0,111.38 661.2,111.32 661.5,111.41 661.8,111.43 662.0,111.34 662.2,111.31 662.5,111.17 662.8,111.28 663.0,111.43 663.2,111.38 663.5,111.23 663.8,111.28 664.0,111.19 664.2,111.16 664.5,111.19 664.8,111.42 665.0,111.17 665.2,111.29 665.5,111.38 665.8,111.40 666.0,111.19 666.2,111.39 666.5,111.43 666.8,111.37 667.0,111.17 667.2,111.31 667.5,111.23 667.8,111.43 668.0,111.31 668.2,111.35 668.5,111.39 668.8,111.25 669.0,111.34 669.2,111.41 669.5,111.15 669.8,111.31 670.0,111.40 670.2,111.45 670.5,111.25 670.8,111.30 671.0,111.44 671.2,111.31 671.5,111.23 671.8,111.29 672.0,111.38 672.2,111.30 672.5,111.27 672.8,111.25 673.0,111.41 673.2,111.21 673.5,111.17 673.8,111.23 674.0,111.19 674.2,111.34 674.5,111.18 674.8,111.40 675.0,111.38 675.2,111.27 675.5,111.18 675.8,111.43 676.0,111.38 676.2,111.44 676.5,111.32 676.8,111.41 677.0,111.39 677.2,111.23 677.5,111.28"/>
<polyline fill="#000" stroke="#000" stroke-width="1.6" stroke-linejoin="round" points="417.0,215.07 417.2,215.23 417.5,215.15 417.8,215.35 418.0,215.07 418.2,215.28 418.5,215.21 418.8,215.20 419.0,215.07 419.2,215.20 419.5,215.05 419.8,215.16 420.0,215.29 420.2,215.10 420.5,215.29 420.8,215.05 421.0,215.21 421.2,215.28 421.5,215.06 421.8,215.25 422.0,215.23 422.2,215.25 422.5,215.15 422.8,215.34 423.0,215.24 423.2,215.30 423.5,215.10 423.8,215.35 424.0,215.17 424.2,215.27 424.5,215.21 424.8,215.18 425.0,215.14 425.2,215.31 425.5,215.28 425.8,215.31 426.0,215.06 426.2,215.31 426.5,215.31 426.8,215.19 427.0,215.18 427.2,215.08 427.5,215.33 427.8,215.28 428.0,215.30 428.2,215.17 428.5,215.21 428.8,215.23 429.0,215.08 429.2,215.15 429.5,215.09 429.8,215.06 430.0,215.27 430.2,215.07 430.5,215.23 430.8,215.33 431.0,215.08 431.2,215.32 431.5,215.34 431.8,215.26 432.0,215.26 432.2,215.06 432.5,215.09 432.8,215.22 433.0,215.19 433.2,215.10 433.5,215.11 433.8,215.15 434.0,215.20 434.2,215.32 434.5,215.28 434.8,215.15 435.0,215.17 435.2,215.11 435.5,215.08 435.8,215.06 436.0,215.29 436.2,215.33 436.5,215.08 436.8,215.18 437.0,215.30 437.2,215.14 437.5,215.27 437.8,215.28 438.0,215.24 438.2,215.19 438.5,215.15 438.8,215.33 439.0,215.13 439.2,215.16 439.5,215.21 439.8,215.15 440.0,215.11 440.2,215.35 440.5,215.21 440.8,215.15 441.0,215.14 441.2,215.16 441.5,215.30 441.8,215.06 442.0,215.11 442.2,215.28 442.5,215.22 442.8,215.06 443.0,215.29 443.2,215.23 443.5,215.06 443.8,215.08 444.0,215.28 444.2,215.13 444.5,215.24 444.8,215.15 445.0,215.12 445.2,215.31 445.5,215.28 445.8,215.29 446.0,215.27 446.2,215.34 446.5,215.31 446.8,215.23 447.0,215.22 447.2,215.33 447.5,215.18 447.8,215.07 448.0,215.18 448.2,215.24 448.5,215.14 448.8,215.22 449.0,215.30 449.2,215.21 449.5,215.34 449.8,215.15 450.0,215.30 450.2,215.24 450.5,215.06 450.8,215.12 451.0,215.10 451.2,215.16 451.5,215.16 451.8,215.14 452.0,215.06 452.2,215.29 452.5,215.12 452.8,215.26 453.0,215.27 453.2,215.10 453.5,215.17 453.8,215.08 454.0,214.97 454.2,214.59 454.5,213.10 454.8,208.93 455.0,200.55 455.2,189.12 455.5,179.27 455.8,176.64 456.0,181.00 456.2,188.64 456.5,197.08 456.8,204.61 457.0,209.61 457.2,212.53 457.5,213.85 457.8,214.41 458.0,214.97 458.2,215.07 458.5,214.89 458.8,214.93 459.0,215.21 459.2,215.17 459.5,215.14 459.8,215.21 460.0,215.19 460.2,215.18 460.5,215.25 460.8,215.32 461.0,215.31 461.2,215.29 461.5,215.32 461.8,215.16 462.0,215.14 462.2,215.27 462.5,215.11 462.8,215.13 463.0,215.25 463.2,215.20 463.5,215.29 463.8,215.07 464.0,215.18 464.2,215.33 464.5,215.30 464.8,215.14 465.0,215.23 465.2,215.13 465.5,215.28 465.8,215.11 466.0,215.11 466.2,215.32 466.5,215.17 466.8,215.29 467.0,215.14 467.2,215.11 467.5,215.11 467.8,215.28 468.0,215.32 468.2,215.15 468.5,215.18 468.8,215.31 469.0,215.29 469.2,215.18 469.5,215.32 469.8,215.16 470.0,215.28 470.2,215.27 470.5,215.22 470.8,215.19 471.0,215.13 471.2,215.34 471.5,215.13 471.8,215.28 472.0,215.26 472.2,215.16 472.5,215.14 472.8,215.17 473.0,215.08 473.2,215.29 473.5,215.26 473.8,215.15 474.0,215.27 474.2,215.30 474.5,215.28 474.8,215.12 475.0,215.10 475.2,215.14 475.5,215.06 475.8,215.11 476.0,215.26 476.2,215.26 476.5,215.13 476.8,215.33 477.0,215.17 477.2,215.32 477.5,215.34 477.8,215.20 478.0,215.30 478.2,215.07 478.5,215.09 478.8,215.21 479.0,215.29 479.2,215.31 479.5,215.20 479.8,215.19 480.0,215.24 480.2,215.14 480.5,215.19 480.8,215.12 481.0,215.32 481.2,215.33 481.5,215.23 481.8,215.20 482.0,215.27 482.2,215.15 482.5,215.28 482.8,215.25 483.0,215.21 483.2,215.14 483.5,215.12 483.8,215.24 484.0,215.22 484.2,215.07 484.5,215.07 484.8,215.16 485.0,215.32 485.2,215.21 485.5,215.16 485.8,215.27 486.0,215.34 486.2,215.06 486.5,215.08 486.8,215.31 487.0,215.21 487.2,215.16 487.5,215.26 487.8,215.33 488.0,215.12 488.2,215.12 488.5,215.22 488.8,215.32 489.0,215.23 489.2,215.32 489.5,215.06 489.8,215.33 490.0,215.26 490.2,215.12 490.5,215.31 490.8,215.32 491.0,215.33 491.2,215.30 491.5,215.19 491.8,215.10 492.0,215.30 492.2,215.30 492.5,215.12 492.8,215.22 493.0,215.25 493.2,215.31 493.5,215.28 493.8,215.06 494.0,215.31 494.2,215.27 494.5,215.13 494.8,215.08 495.0,215.08 495.2,215.21 495.5,215.06 495.8,215.17 496.0,215.26 496.2,215.21 496.5,215.14 496.8,215.13 497.0,215.31 497.2,215.29 497.5,215.06 497.8,215.32 498.0,215.11 498.2,215.25 498.5,215.28 498.8,215.27 499.0,215.21 499.2,215.05 499.5,215.31 499.8,215.09 500.0,215.25 500.2,215.30 500.5,215.13 500.8,215.25 501.0,215.29 501.2,215.22 501.5,215.10 501.8,215.09 502.0,215.18 502.2,215.35 502.5,215.12 502.8,215.17 503.0,215.08 503.2,215.06 503.5,215.25 503.8,215.10 504.0,215.10 504.2,215.27 504.5,215.24 504.8,215.24 505.0,215.24 505.2,215.24 505.5,215.32 505.8,215.28 506.0,215.08 506.2,215.23 506.5,215.16 506.8,215.08 507.0,215.12 507.2,215.28 507.5,215.07 507.8,215.11 508.0,215.05 508.2,215.13 508.5,215.12 508.8,215.11 509.0,215.27 509.2,215.15 509.5,215.24 509.8,215.10 510.0,215.31 510.2,215.19 510.5,215.25 510.8,215.10 511.0,215.25 511.2,215.10 511.5,215.10 511.8,215.09 512.0,215.31 512.2,215.07 512.5,215.13 512.8,215.15 513.0,215.15 513.2,215.34 513.5,215.09 513.8,215.19 514.0,215.21 514.2,215.25 514.5,215.12 514.8,215.12 515.0,215.09 515.2,215.29 515.5,215.25 515.8,215.28 516.0,215.32 516.2,215.25 516.5,215.34 516.8,215.11 517.0,215.28 517.2,215.33 517.5,215.33 517.8,215.13 518.0,215.29 518.2,215.21 518.5,215.23 518.8,215.11 519.0,215.06 519.2,215.26 519.5,215.16 519.8,215.08 520.0,215.21 520.2,215.08 520.5,215.13 520.8,215.26 521.0,215.09 521.2,215.18 521.5,215.32 521.8,215.17 522.0,215.10 522.2,215.19 522.5,215.20 522.8,215.23 523.0,215.09 523.2,215.15 523.5,215.29 523.8,215.24 524.0,215.24 524.2,215.06 524.5,215.14 524.8,215.31 525.0,215.08 525.2,215.34 525.5,215.17 525.8,215.22 526.0,215.13 526.2,215.22 526.5,215.32 526.8,215.19 527.0,215.10 527.2,215.11 527.5,215.24 527.8,215.28 528.0,215.13 528.2,215.11 528.5,215.28 528.8,215.09 529.0,215.05 529.2,215.22 529.5,215.24 529.8,215.14 530.0,215.07 530.2,215.29 530.5,215.26 530.8,215.25 531.0,215.13 531.2,215.29 531.5,215.19 531.8,215.20 532.0,215.15 532.2,215.31 532.5,215.06 532.8,215.05 533.0,215.18 533.2,215.11 533.5,215.29 533.8,215.08 534.0,215.18 534.2,215.12 534.5,215.09 534.8,215.24 535.0,215.07 535.2,215.29 535.5,215.34 535.8,215.20 536.0,215.08 536.2,215.08 536.5,215.06 536.8,215.20 537.0,215.07 537.2,215.18 537.5,215.31 537.8,215.16 538.0,215.11 538.2,215.22 538.5,215.17 538.8,215.27 539.0,215.27 539.2,215.22 539.5,215.20 539.8,215.21 540.0,215.32 540.2,215.35 540.5,215.25 540.8,215.13 541.0,215.13 541.2,215.28 541.5,215.27 541.8,215.19 542.0,215.30 542.2,215.17 542.5,215.08 542.8,215.29 543.0,215.17 543.2,215.13 543.5,215.13 543.8,215.14 544.0,215.14 544.2,215.27 544.5,215.10 544.8,215.07 545.0,215.33 545.2,215.07 545.5,215.22 545.8,215.32 546.0,215.33 546.2,215.11 546.5,215.15 546.8,215.31 547.0,215.21 547.2,215.16 547.5,215.05 547.8,215.25 548.0,215.12 548.2,215.28 548.5,215.29 548.8,215.30 549.0,215.23 549.2,215.16 549.5,215.26 549.8,215.30 550.0,215.28 550.2,215.32 550.5,215.29 550.8,215.26 551.0,215.20 551.2,215.29 551.5,215.21 551.8,215.22 552.0,215.06 552.2,215.20 552.5,215.07 552.8,215.21 553.0,215.29 553.2,215.17 553.5,215.31 553.8,215.30 554.0,215.33 554.2,215.14 554.5,215.05 554.8,215.19 555.0,215.11 555.2,214.81 555.5,214.13 555.8,212.61 556.0,210.42 556.2,207.62 556.5,204.77 556.8,203.52 557.0,204.17 557.2,205.38 557.5,207.44 557.8,209.70 558.0,211.51 558.2,212.85 558.5,213.97 558.8,214.53 559.0,214.88 559.2,214.96 559.5,215.00 559.8,215.02 560.0,214.98 560.2,215.24 560.5,215.19 560.8,215.05 561.0,215.08 561.2,215.14 561.5,215.12 561.8,215.23 562.0,215.05 562.2,215.17 562.5,215.22 562.8,215.29 563.0,215.31 563.2,215.08 563.5,215.11 563.8,215.34 564.0,215.25 564.2,215.20 564.5,215.20 564.8,215.24 565.0,215.08 565.2,215.24 565.5,215.19 565.8,215.07 566.0,215.16 566.2,215.21 566.5,215.25 566.8,215.23 567.0,215.17 567.2,215.11 567.5,215.27 567.8,215.22 568.0,215.20 568.2,215.17 568.5,214.94 568.8,214.95 569.0,214.90 569.2,214.73 569.5,214.45 569.8,214.54 570.0,214.34 570.2,214.57 570.5,214.60 570.8,214.76 571.0,214.67 571.2,214.99 571.5,215.07 571.8,215.20 572.0,215.20 572.2,215.09 572.5,215.11 572.8,215.07 573.0,215.06 573.2,215.18 573.5,215.07 573.8,215.32 574.0,215.07 574.2,215.22 574.5,215.29 574.8,215.13 575.0,215.09 575.2,215.23 575.5,215.32 575.8,215.09 576.0,215.12 576.2,215.17 576.5,215.06 576.8,215.34 577.0,215.33 577.2,215.31 577.5,215.34 577.8,215.14 578.0,215.16 578.2,215.32 578.5,215.30 578.8,215.30 579.0,215.17 579.2,215.15 579.5,215.06 579.8,215.24 580.0,215.06 580.2,215.22 580.5,215.23 580.8,215.27 581.0,215.28 581.2,215.06 581.5,215.05 581.8,215.14 582.0,215.29 582.2,215.28 582.5,215.18 582.8,214.64 583.0,212.87 583.2,208.72 583.5,200.10 583.8,188.33 584.0,178.23 584.2,175.32 584.5,179.61 584.8,187.57 585.0,196.44 585.2,203.87 585.5,209.18 585.8,212.29 586.0,213.78 586.2,214.30 586.5,214.62 586.8,214.75 587.0,214.93 587.2,215.12 587.5,215.15 587.8,215.12 588.0,215.05 588.2,215.28 588.5,215.05 588.8,215.07 589.0,215.16 589.2,215.32 589.5,215.09 589.8,215.21 590.0,215.14 590.2,215.17 590.5,215.12 590.8,215.22 591.0,215.06 591.2,215.06 591.5,215.07 591.8,215.16 592.0,215.25 592.2,215.24 592.5,215.27 592.8,215.08 593.0,215.11 593.2,215.11 593.5,215.10 593.8,215.05 594.0,215.14 594.2,215.25 594.5,215.12 594.8,215.27 595.0,215.17 595.2,215.30 595.5,215.09 595.8,215.20 596.0,215.27 596.2,215.07 596.5,215.33 596.8,215.07 597.0,215.12 597.2,215.31 597.5,215.12 597.8,215.18 598.0,215.08 598.2,215.17 598.5,215.22 598.8,215.07 599.0,215.32 599.2,215.12 599.5,215.32 599.8,215.27 600.0,215.32 600.2,215.09 600.5,215.22 600.8,215.13 601.0,215.27 601.2,215.13 601.5,215.16 601.8,215.32 602.0,215.20 602.2,215.13 602.5,215.29 602.8,215.15 603.0,215.27 603.2,215.24 603.5,215.07 603.8,215.07 604.0,215.05 604.2,215.22 604.5,215.18 604.8,215.11 605.0,215.12 605.2,215.21 605.5,215.09 605.8,215.23 606.0,215.06 606.2,215.21 606.5,215.31 606.8,215.13 607.0,215.31 607.2,215.15 607.5,215.33 607.8,215.05 608.0,215.19 608.2,215.13 608.5,215.31 608.8,215.16 609.0,215.24 609.2,215.28 609.5,215.11 609.8,215.34 610.0,215.21 610.2,215.32 610.5,215.09 610.8,215.08 611.0,215.34 611.2,215.21 611.5,215.21 611.8,215.13 612.0,215.13 612.2,215.25 612.5,215.07 612.8,215.29 613.0,215.31 613.2,215.11 613.5,215.31 613.8,215.29 614.0,215.20 614.2,215.25 614.5,215.30 614.8,215.07 615.0,215.21 615.2,215.11 615.5,215.27 615.8,215.08 616.0,215.28 616.2,215.08 616.5,215.17 616.8,215.06 617.0,215.12 617.2,215.16 617.5,215.19 617.8,215.09 618.0,215.22 618.2,215.32 618.5,215.08 618.8,215.11 619.0,215.15 619.2,215.13 619.5,215.28 619.8,215.21 620.0,215.10 620.2,215.06 620.5,215.07 620.8,215.30 621.0,215.14 621.2,215.18 621.5,215.23 621.8,215.30 622.0,215.31 622.2,215.21 622.5,215.20 622.8,215.27 623.0,215.24 623.2,215.18 623.5,215.12 623.8,215.17 624.0,215.30 624.2,215.08 624.5,215.24 624.8,215.06 625.0,215.06 625.2,215.31 625.5,215.18 625.8,215.06 626.0,215.23 626.2,215.19 626.5,215.26 626.8,215.34 627.0,215.29 627.2,215.31 627.5,215.26 627.8,215.16 628.0,215.18 628.2,215.07 628.5,215.14 628.8,215.24 629.0,215.07 629.2,215.16 629.5,215.19 629.8,215.09 630.0,215.15 630.2,215.24 630.5,215.17 630.8,215.26 631.0,215.06 631.2,215.28 631.5,215.06 631.8,215.33 632.0,215.35 632.2,215.18 632.5,215.29 632.8,215.20 633.0,215.31 633.2,215.10 633.5,215.15 633.8,215.14 634.0,215.07 634.2,215.05 634.5,215.15 634.8,215.14 635.0,215.35 635.2,215.34 635.5,215.22 635.8,215.06 636.0,215.26 636.2,215.18 636.5,215.35 636.8,215.23 637.0,215.08 637.2,215.17 637.5,215.10 637.8,215.35 638.0,215.29 638.2,215.30 638.5,215.10 638.8,215.32 639.0,215.07 639.2,215.27 639.5,215.09 639.8,215.20 640.0,215.25 640.2,215.06 640.5,215.23 640.8,215.14 641.0,215.33 641.2,215.10 641.5,215.06 641.8,215.32 642.0,215.13 642.2,215.27 642.5,215.31 642.8,215.24 643.0,215.15 643.2,215.06 643.5,215.05 643.8,215.05 644.0,215.16 644.2,215.15 644.5,215.30 644.8,215.13 645.0,215.18 645.2,215.24 645.5,215.08 645.8,215.27 646.0,215.31 646.2,215.30 646.5,215.31 646.8,215.17 647.0,215.11 647.2,215.30 647.5,215.20 647.8,215.18 648.0,215.18 648.2,215.23 648.5,215.19 648.8,215.35 649.0,215.33 649.2,215.22 649.5,215.28 649.8,215.12 650.0,215.28 650.2,215.10 650.5,215.28 650.8,215.32 651.0,215.21 651.2,215.23 651.5,215.25 651.8,215.12 652.0,215.28 652.2,215.15 652.5,215.10 652.8,215.21 653.0,215.20 653.2,215.07 653.5,215.17 653.8,215.30 654.0,215.33 654.2,215.33 654.5,215.25 654.8,215.32 655.0,215.16 655.2,215.22 655.5,215.26 655.8,215.20 656.0,215.07 656.2,215.28 656.5,215.30 656.8,215.26 657.0,215.25 657.2,215.08 657.5,215.14 657.8,215.22 658.0,215.30 658.2,215.34 658.5,215.31 658.8,215.10 659.0,215.16 659.2,215.30 659.5,215.16 659.8,215.33 660.0,215.20 660.2,215.25 660.5,215.32 660.8,215.13 661.0,215.13 661.2,215.20 661.5,215.30 661.8,215.15 662.0,215.22 662.2,215.15 662.5,215.32 662.8,215.08 663.0,215.35 663.2,215.28 663.5,215.23 663.8,215.29 664.0,215.32 664.2,215.14 664.5,215.05 664.8,215.25 665.0,215.27 665.2,215.15 665.5,215.28 665.8,215.23 666.0,215.14 666.2,215.22 666.5,215.30 666.8,215.33 667.0,215.19 667.2,215.05 667.5,215.07 667.8,215.32 668.0,215.20 668.2,215.20 668.5,215.29 668.8,215.15 669.0,215.20 669.2,215.11 669.5,215.26 669.8,215.07 670.0,215.11 670.2,215.21 670.5,215.31 670.8,215.20 671.0,215.31 671.2,215.14 671.5,215.14 671.8,215.18 672.0,215.06 672.2,215.34 672.5,215.14 672.8,215.11 673.0,215.32 673.2,215.25 673.5,215.33 673.8,215.18 674.0,215.13 674.2,215.25 674.5,215.14 674.8,215.24 675.0,215.14 675.2,215.27 675.5,215.06 675.8,215.22 676.0,215.35 676.2,215.32 676.5,215.13 676.8,215.09 677.0,215.16 677.2,215.30 677.5,215.09"/>
<polyline fill="#000" stroke="#000" stroke-width="1.6" stroke-linejoin="round" points="417.0,319.93 417.2,320.12 417.5,320.04 417.8,319.95 418.0,320.15 418.2,320.14 418.5,320.04 418.8,319.89 419.0,319.85 419.2,320.05 419.5,319.88 419.8,319.91 420.0,319.89 420.2,319.97 420.5,319.86 420.8,319.96 421.0,319.87 421.2,319.98 421.5,320.09 421.8,319.99 422.0,320.01 422.2,320.05 422.5,320.04 422.8,320.00 423.0,319.97 423.2,320.08 423.5,320.07 423.8,320.00 424.0,320.00 424.2,320.02 424.5,319.95 424.8,320.09 425.0,319.99 425.2,320.07 425.5,319.92 425.8,319.94 426.0,319.92 426.2,319.99 426.5,320.08 426.8,319.87 427.0,320.00 427.2,320.04 427.5,320.06 427.8,320.03 428.0,319.94 428.2,319.90 428.5,320.01 428.8,319.93 429.0,320.09 429.2,320.01 429.5,320.04 429.8,320.06 430.0,320.04 430.2,319.92 430.5,319.93 430.8,320.09 431.0,320.08 431.2,319.91 431.5,319.95 431.8,319.95 432.0,319.96 432.2,319.94 432.5,320.07 432.8,320.13 433.0,320.04 433.2,320.14 433.5,319.86 433.8,319.99 434.0,319.95 434.2,319.86 434.5,319.91 434.8,320.08 435.0,320.05 435.2,320.12 435.5,319.91 435.8,319.93 436.0,320.00 436.2,320.04 436.5,320.07 436.8,320.00 437.0,319.94 437.2,319.88 437.5,319.90 437.8,319.89 438.0,320.02 438.2,320.02 438.5,320.06 438.8,319.86 439.0,320.09 439.2,320.10 439.5,320.07 439.8,319.87 440.0,319.89 440.2,320.05 440.5,319.89 440.8,319.88 441.0,320.02 441.2,320.09 441.5,319.92 441.8,320.04 442.0,320.11 442.2,319.88 442.5,320.02 442.8,320.03 443.0,319.97 443.2,320.07 443.5,320.14 443.8,320.03 444.0,320.04 444.2,320.15 444.5,320.04 444.8,319.92 445.0,320.05 445.2,319.95 445.5,319.96 445.8,320.09 446.0,320.14 446.2,319.95 446.5,319.97 446.8,320.06 447.0,320.09 447.2,319.89 447.5,319.88 447.8,320.08 448.0,319.97 448.2,319.98 448.5,320.05 448.8,320.14 449.0,320.05 449.2,319.96 449.5,319.97 449.8,320.00 450.0,320.11 450.2,320.09 450.5,320.06 450.8,320.03 451.0,320.04 451.2,319.88 451.5,320.12 451.8,319.85 452.0,320.08 452.2,319.89 452.5,320.08 452.8,319.97 453.0,320.04 453.2,320.14 453.5,319.91 453.8,319.91 454.0,320.07 454.2,319.92 454.5,320.01 454.8,319.85 455.0,320.13 455.2,320.04 455.5,320.08 455.8,319.96 456.0,319.92 456.2,319.90 456.5,319.99 456.8,320.03 457.0,319.91 457.2,320.12 457.5,320.07 457.8,319.92 458.0,320.02 458.2,319.85 458.5,320.12 458.8,320.01 459.0,320.09 459.2,320.15 459.5,320.12 459.8,320.12 460.0,320.04 460.2,320.02 460.5,320.00 460.8,320.06 461.0,319.94 461.2,320.00 461.5,319.86 461.8,320.10 462.0,320.00 462.2,320.00 462.5,320.04 462.8,319.89 463.0,320.09 463.2,319.89 463.5,320.04 463.8,320.05 464.0,319.97 464.2,319.98 464.5,320.06 464.8,320.12 465.0,319.86 465.2,320.04 465.5,320.12 465.8,319.95 466.0,319.99 466.2,320.05 466.5,320.05 466.8,319.90 467.0,320.05 467.2,320.02 467.5,319.86 467.8,320.04 468.0,320.03 468.2,320.10 468.5,319.95 468.8,319.95 469.0,320.02 469.2,320.03 469.5,320.08 469.8,319.91 470.0,320.01 470.2,319.90 470.5,320.04 470.8,319.93 471.0,320.14 471.2,320.08 471.5,319.86 471.8,319.95 472.0,319.95 472.2,320.00 472.5,320.01 472.8,320.09 473.0,320.10 473.2,319.96 473.5,319.94 473.8,320.07 474.0,319.96 474.2,320.11 474.5,319.97 474.8,320.10 475.0,320.00 475.2,320.06 475.5,319.98 475.8,320.11 476.0,320.00 476.2,319.97 476.5,320.11 476.8,320.06 477.0,319.95 477.2,319.99 477.5,319.96 477.8,319.92 478.0,319.98 478.2,320.08 478.5,320.02 478.8,319.90 479.0,319.98 479.2,319.92 479.5,320.04 479.8,320.02 480.0,319.86 480.2,319.90 480.5,319.95 480.8,320.12 481.0,319.97 481.2,320.14 481.5,319.87 481.8,319.86 482.0,319.93 482.2,320.07 482.5,319.90 482.8,320.10 483.0,319.90 483.2,319.99 483.5,320.15 483.8,319.88 484.0,320.02 484.2,319.90 484.5,319.94 484.8,319.99 485.0,319.89 485.2,320.09 485.5,319.88 485.8,320.05 486.0,320.14 486.2,320.05 486.5,320.13 486.8,320.13 487.0,319.96 487.2,320.11 487.5,320.10 487.8,320.06 488.0,320.07 488.2,319.87 488.5,319.88 488.8,319.89 489.0,319.85 489.2,320.02 489.5,319.91 489.8,320.07 490.0,319.87 490.2,319.91 490.5,319.93 490.8,320.08 491.0,320.12 491.2,319.87 491.5,319.98 491.8,319.97 492.0,319.89 492.2,320.11 492.5,319.94 492.8,320.01 493.0,319.91 493.2,320.01 493.5,320.09 493.8,319.86 494.0,320.07 494.2,319.93 494.5,319.90 494.8,320.08 495.0,319.94 495.2,320.03 495.5,320.08 495.8,320.08 496.0,319.86 496.2,320.04 496.5,320.00 496.8,320.00 497.0,320.14 497.2,319.92 497.5,319.93 497.8,319.89 498.0,320.04 498.2,320.09 498.5,320.05 498.8,319.93 499.0,319.95 499.2,320.03 499.5,319.99 499.8,320.10 500.0,319.87 500.2,320.01 500.5,320.00 500.8,319.91 501.0,320.09 501.2,319.93 501.5,320.04 501.8,319.91 502.0,320.12 502.2,320.07 502.5,319.96 502.8,320.01 503.0,320.04 503.2,319.98 503.5,320.08 503.8,320.02 504.0,320.15 504.2,319.91 504.5,320.07 504.8,319.90 505.0,319.98 505.2,319.97 505.5,319.96 505.8,320.11 506.0,319.92 506.2,320.06 506.5,319.89 506.8,319.91 507.0,319.95 507.2,319.91 507.5,320.02 507.8,319.95 508.0,319.86 508.2,320.09 508.5,320.12 508.8,320.03 509.0,320.00 509.2,320.11 509.5,320.08 509.8,319.89 510.0,320.03 510.2,320.11 510.5,320.10 510.8,319.98 511.0,320.09 511.2,320.01 511.5,319.99 511.8,320.02 512.0,320.00 512.2,319.90 512.5,320.14 512.8,319.87 513.0,320.09 513.2,320.14 513.5,319.92 513.8,319.98 514.0,319.99 514.2,320.08 514.5,319.92 514.8,320.06 515.0,319.93 515.2,320.08 515.5,319.98 515.8,319.96 516.0,320.04 516.2,320.01 516.5,320.13 516.8,319.96 517.0,319.94 517.2,320.10 517.5,319.98 517.8,319.93 518.0,320.12 518.2,319.90 518.5,319.89 518.8,320.13 519.0,320.08 519.2,320.12 519.5,320.07 519.8,320.12 520.0,320.00 520.2,320.07 520.5,320.06 520.8,320.01 521.0,320.04 521.2,319.91 521.5,319.93 521.8,320.12 522.0,320.08 522.2,320.15 522.5,320.05 522.8,320.12 523.0,319.94 523.2,319.92 523.5,319.85 523.8,320.09 524.0,320.14 524.2,319.92 524.5,320.03 524.8,319.87 525.0,320.03 525.2,320.06 525.5,320.13 525.8,319.87 526.0,320.00 526.2,320.02 526.5,320.02 526.8,319.92 527.0,319.90 527.2,320.01 527.5,320.10 527.8,320.03 528.0,319.88 528.2,320.03 528.5,319.95 528.8,319.98 529.0,320.01 529.2,319.98 529.5,320.08 529.8,319.98 530.0,319.89 530.2,320.13 530.5,320.04 530.8,319.89 531.0,319.86 531.2,320.15 531.5,319.96 531.8,319.96 532.0,319.90 532.2,320.01 532.5,320.11 532.8,320.06 533.0,319.94 533.2,319.93 533.5,320.09 533.8,319.96 534.0,319.95 534.2,319.95 534.5,320.14 534.8,320.02 535.0,320.05 535.2,319.97 535.5,320.05 535.8,320.11 536.0,319.95 536.2,320.06 536.5,319.91 536.8,320.06 537.0,319.99 537.2,319.91 537.5,320.12 537.8,319.93 538.0,320.13 538.2,319.87 538.5,320.14 538.8,319.93 539.0,320.04 539.2,320.10 539.5,320.03 539.8,320.00 540.0,320.03 540.2,320.11 540.5,319.99 540.8,320.06 541.0,319.86 541.2,320.04 541.5,320.02 541.8,320.08 542.0,319.86 542.2,320.05 542.5,319.96 542.8,319.90 543.0,320.03 543.2,319.92 543.5,320.07 543.8,320.12 544.0,320.14 544.2,320.02 544.5,319.89 544.8,320.09 545.0,320.02 545.2,319.92 545.5,320.07 545.8,320.10 546.0,319.99 546.2,320.02 546.5,319.87 546.8,319.88 547.0,320.08 547.2,319.98 547.5,320.03 547.8,320.14 548.0,320.02 548.2,319.88 548.5,320.06 548.8,319.97 549.0,319.94 549.2,320.13 549.5,319.87 549.8,320.12 550.0,320.06 550.2,319.94 550.5,320.14 550.8,320.04 551.0,320.11 551.2,320.01 551.5,320.15 551.8,320.10 552.0,320.08 552.2,320.13 552.5,320.12 552.8,320.09 553.0,319.99 553.2,320.11 553.5,319.90 553.8,320.02 554.0,320.07 554.2,320.08 554.5,319.90 554.8,320.14 555.0,319.93 555.2,320.12 555.5,319.87 555.8,320.03 556.0,319.97 556.2,319.89 556.5,320.12 556.8,320.13 557.0,319.94 557.2,319.97 557.5,319.93 557.8,320.07 558.0,320.00 558.2,320.09 558.5,320.02 558.8,320.07 559.0,319.97 559.2,320.06 559.5,320.07 559.8,319.96 560.0,320.12 560.2,319.91 560.5,320.00 560.8,320.08 561.0,320.12 561.2,320.00 561.5,320.00 561.8,319.93 562.0,320.04 562.2,320.02 562.5,319.87 562.8,320.05 563.0,319.81 563.2,319.79 563.5,319.68 563.8,319.57 564.0,319.62 564.2,319.26 564.5,319.14 564.8,319.14 565.0,318.85 565.2,318.99 565.5,319.04 565.8,319.27 566.0,319.57 566.2,319.49 566.5,319.83 566.8,319.91 567.0,319.87 567.2,320.04 567.5,319.98 567.8,319.91 568.0,320.08 568.2,319.88 568.5,319.98 568.8,319.77 569.0,319.59 569.2,319.43 569.5,319.48 569.8,319.33 570.0,319.06 570.2,319.26 570.5,319.33 570.8,319.46 571.0,319.50 571.2,319.61 571.5,319.74 571.8,319.90 572.0,319.90 572.2,319.96 572.5,320.07 572.8,319.86 573.0,319.86 573.2,319.92 573.5,319.85 573.8,320.01 574.0,319.90 574.2,320.08 574.5,319.93 574.8,319.94 575.0,319.87 575.2,319.90 575.5,319.89 575.8,320.07 576.0,319.91 576.2,320.01 576.5,320.06 576.8,320.04 577.0,319.91 577.2,319.90 577.5,319.90 577.8,319.95 578.0,320.10 578.2,320.10 578.5,319.98 578.8,320.09 579.0,320.05 579.2,320.12 579.5,320.10 579.8,319.93 580.0,320.08 580.2,319.90 580.5,320.05 580.8,319.90 581.0,320.06 581.2,320.07 581.5,320.03 581.8,320.15 582.0,320.01 582.2,319.99 582.5,319.86 582.8,318.52 583.0,314.87 583.2,305.02 583.5,285.33 583.8,258.72 584.0,235.15 584.2,228.84 584.5,238.87 584.8,256.75 585.0,277.02 585.2,294.32 585.5,306.36 585.8,313.29 586.0,316.55 586.2,318.28 586.5,318.77 586.8,319.13 587.0,319.55 587.2,319.46 587.5,319.80 587.8,319.67 588.0,319.70 588.2,319.78 588.5,319.86 588.8,319.81 589.0,320.03 589.2,319.93 589.5,320.02 589.8,319.99 590.0,320.06 590.2,319.92 590.5,319.96 590.8,319.90 591.0,319.95 591.2,319.96 591.5,319.87 591.8,319.90 592.0,319.98 592.2,320.05 592.5,319.87 592.8,320.04 593.0,320.12 593.2,320.05 593.5,319.94 593.8,319.87 594.0,319.96 594.2,319.95 594.5,319.87 594.8,319.92 595.0,320.02 595.2,320.01 595.5,319.92 595.8,320.05 596.0,320.12 596.2,319.96 596.5,319.91 596.8,320.08 597.0,319.94 597.2,319.88 597.5,320.11 597.8,320.11 598.0,320.00 598.2,320.05 598.5,319.87 598.8,319.85 599.0,320.02 599.2,319.91 599.5,319.96 599.8,320.10 600.0,319.86 600.2,320.10 600.5,320.13 600.8,320.01 601.0,320.14 601.2,320.01 601.5,320.03 601.8,319.86 602.0,320.03 602.2,319.90 602.5,319.92 602.8,319.97 603.0,320.08 603.2,320.06 603.5,320.00 603.8,320.03 604.0,319.96 604.2,320.00 604.5,320.05 604.8,319.97 605.0,319.85 605.2,320.09 605.5,320.05 605.8,320.15 606.0,320.12 606.2,320.13 606.5,320.02 606.8,319.90 607.0,319.94 607.2,319.86 607.5,319.90 607.8,319.97 608.0,319.98 608.2,320.15 608.5,320.03 608.8,320.07 609.0,319.96 609.2,320.13 609.5,319.99 609.8,320.04 610.0,320.00 610.2,320.03 610.5,320.12 610.8,319.93 611.0,319.91 611.2,319.97 611.5,320.12 611.8,319.97 612.0,319.89 612.2,319.85 612.5,319.92 612.8,320.14 613.0,319.89 613.2,319.95 613.5,320.07 613.8,319.87 614.0,319.90 614.2,319.88 614.5,320.08 614.8,319.98 615.0,320.04 615.2,320.06 615.5,319.92 615.8,319.97 616.0,320.05 616.2,319.99 616.5,319.87 616.8,319.98 617.0,319.88 617.2,319.98 617.5,319.85 617.8,320.14 618.0,320.01 618.2,319.98 618.5,319.93 618.8,319.86 619.0,319.96 619.2,320.01 619.5,319.96 619.8,319.99 620.0,319.94 620.2,319.86 620.5,320.13 620.8,320.03 621.0,319.83 621.2,320.02 621.5,319.71 621.8,319.80 622.0,319.43 622.2,319.15 622.5,319.07 622.8,318.79 623.0,318.66 623.2,318.44 623.5,318.52 623.8,318.60 624.0,318.86 624.2,318.99 624.5,319.10 624.8,319.35 625.0,319.48 625.2,319.82 625.5,319.84 625.8,319.94 626.0,320.00 626.2,319.88 626.5,320.08 626.8,319.98 627.0,319.92 627.2,319.87 627.5,320.14 627.8,320.07 628.0,320.00 628.2,319.87 628.5,320.10 628.8,319.90 629.0,320.03 629.2,319.99 629.5,319.87 629.8,320.13 630.0,320.05 630.2,320.10 630.5,320.11 630.8,320.06 631.0,319.94 631.2,319.98 631.5,320.11 631.8,319.91 632.0,320.00 632.2,320.11 632.5,319.90 632.8,319.90 633.0,320.08 633.2,319.87 633.5,319.91 633.8,320.08 634.0,320.15 634.2,319.89 634.5,319.90 634.8,320.12 635.0,319.92 635.2,319.92 635.5,319.96 635.8,319.90 636.0,319.85 636.2,320.05 636.5,319.90 636.8,319.87 637.0,320.06 637.2,319.94 637.5,319.94 637.8,319.90 638.0,319.98 638.2,320.07 638.5,320.07 638.8,319.99 639.0,320.11 639.2,319.89 639.5,319.88 639.8,320.08 640.0,319.94 640.2,319.95 640.5,320.11 640.8,319.92 641.0,319.92 641.2,320.06 641.5,320.12 641.8,320.07 642.0,319.92 642.2,320.01 642.5,319.91 642.8,320.10 643.0,320.12 643.2,320.05 643.5,319.89 643.8,320.10 644.0,320.13 644.2,319.92 644.5,320.12 644.8,319.95 645.0,320.12 645.2,320.08 645.5,319.95 645.8,319.89 646.0,320.03 646.2,320.02 646.5,320.14 646.8,320.05 647.0,320.08 647.2,319.91 647.5,319.94 647.8,319.91 648.0,319.99 648.2,319.94 648.5,320.11 648.8,320.03 649.0,320.06 649.2,320.07 649.5,319.93 649.8,320.09 650.0,320.05 650.2,320.07 650.5,319.89 650.8,319.96 651.0,320.01 651.2,320.04 651.5,319.87 651.8,319.87 652.0,320.02 652.2,319.98 652.5,319.89 652.8,320.07 653.0,320.07 653.2,320.12 653.5,320.00 653.8,319.92 654.0,320.10 654.2,320.02 654.5,319.85 654.8,320.01 655.0,320.04 655.2,319.90 655.5,319.88 655.8,320.04 656.0,320.11 656.2,319.96 656.5,319.93 656.8,319.87 657.0,319.95 657.2,320.06 657.5,320.00 657.8,320.06 658.0,320.02 658.2,320.01 658.5,319.88 658.8,319.88 659.0,319.87 659.2,320.01 659.5,319.86 659.8,320.11 660.0,319.87 660.2,319.96 660.5,319.89 660.8,320.03 661.0,319.85 661.2,320.14 661.5,319.90 661.8,319.90 662.0,320.04 662.2,319.90 662.5,320.09 662.8,319.92 663.0,320.01 663.2,320.03 663.5,320.09 663.8,319.91 664.0,319.93 664.2,320.12 664.5,319.86 664.8,320.08 665.0,320.04 665.2,320.03 665.5,319.98 665.8,319.88 666.0,319.87 666.2,319.96 666.5,320.04 666.8,320.12 667.0,320.13 667.2,319.99 667.5,319.98 667.8,320.02 668.0,319.86 668.2,320.03 668.5,320.04 668.8,320.02 669.0,320.10 669.2,319.87 669.5,319.97 669.8,319.99 670.0,320.02 670.2,320.07 670.5,320.06 670.8,320.00 671.0,320.02 671.2,319.86 671.5,319.98 671.8,320.09 672.0,320.13 672.2,320.10 672.5,320.05 672.8,319.92 673.0,319.88 673.2,320.08 673.5,319.92 673.8,320.02 674.0,319.99 674.2,319.99 674.5,320.14 674.8,320.13 675.0,319.95 675.2,319.94 675.5,320.04 675.8,319.87 676.0,319.90 676.2,320.06 676.5,320.13 676.8,319.98 677.0,319.95 677.2,320.08 677.5,320.14"/>
<rect x="68.9" y="21.7" width="260.4" height="95.2" fill="none" stroke="#000" stroke-width="2.0"/>
<line x1="76.40" y1="115.30000000000001" x2="76.40" y2="119.4" stroke="#000" stroke-width="2.0"/>
<line x1="96.83" y1="115.30000000000001" x2="96.83" y2="119.4" stroke="#000" stroke-width="2.0"/>
<line x1="117.27" y1="115.30000000000001" x2="117.27" y2="119.4" stroke="#000" stroke-width="2.0"/>
<line x1="137.70" y1="115.30000000000001" x2="137.70" y2="119.4" stroke="#000" stroke-width="2.0"/>
<line x1="158.13" y1="115.30000000000001" x2="158.13" y2="119.4" stroke="#000" stroke-width="2.0"/>
<line x1="178.56" y1="115.30000000000001" x2="178.56" y2="119.4" stroke="#000" stroke-width="2.0"/>
<line x1="199.00" y1="115.30000000000001" x2="199.00" y2="119.4" stroke="#000" stroke-width="2.0"/>
<line x1="219.43" y1="115.30000000000001" x2="219.43" y2="119.4" stroke="#000" stroke-width="2.0"/>
<line x1="239.86" y1="115.30000000000001" x2="239.86" y2="119.4" stroke="#000" stroke-width="2.0"/>
<line x1="260.29" y1="115.30000000000001" x2="260.29" y2="119.4" stroke="#000" stroke-width="2.0"/>
<line x1="280.73" y1="115.30000000000001" x2="280.73" y2="119.4" stroke="#000" stroke-width="2.0"/>
<line x1="301.16" y1="115.30000000000001" x2="301.16" y2="119.4" stroke="#000" stroke-width="2.0"/>
<line x1="321.59" y1="115.30000000000001" x2="321.59" y2="119.4" stroke="#000" stroke-width="2.0"/>
<line x1="64.90" y1="112.90" x2="68.9" y2="112.90" stroke="#000" stroke-width="1.9"/>
<line x1="66.40" y1="103.78" x2="68.9" y2="103.78" stroke="#000" stroke-width="1.9"/>
<line x1="66.40" y1="94.66" x2="68.9" y2="94.66" stroke="#000" stroke-width="1.9"/>
<line x1="66.40" y1="85.54" x2="68.9" y2="85.54" stroke="#000" stroke-width="1.9"/>
<line x1="66.40" y1="76.42" x2="68.9" y2="76.42" stroke="#000" stroke-width="1.9"/>
<line x1="65.90" y1="67.30" x2="68.9" y2="67.30" stroke="#000" stroke-width="1.9"/>
<line x1="66.40" y1="58.18" x2="68.9" y2="58.18" stroke="#000" stroke-width="1.9"/>
<line x1="66.40" y1="49.06" x2="68.9" y2="49.06" stroke="#000" stroke-width="1.9"/>
<line x1="66.40" y1="39.94" x2="68.9" y2="39.94" stroke="#000" stroke-width="1.9"/>
<line x1="66.40" y1="30.82" x2="68.9" y2="30.82" stroke="#000" stroke-width="1.9"/>
<line x1="64.90" y1="21.70" x2="68.9" y2="21.70" stroke="#000" stroke-width="1.9"/>
<rect x="68.9" y="125.3" width="260.4" height="95.50000000000001" fill="none" stroke="#000" stroke-width="2.0"/>
<line x1="76.40" y1="219.20000000000002" x2="76.40" y2="223.3" stroke="#000" stroke-width="2.0"/>
<line x1="96.83" y1="219.20000000000002" x2="96.83" y2="223.3" stroke="#000" stroke-width="2.0"/>
<line x1="117.27" y1="219.20000000000002" x2="117.27" y2="223.3" stroke="#000" stroke-width="2.0"/>
<line x1="137.70" y1="219.20000000000002" x2="137.70" y2="223.3" stroke="#000" stroke-width="2.0"/>
<line x1="158.13" y1="219.20000000000002" x2="158.13" y2="223.3" stroke="#000" stroke-width="2.0"/>
<line x1="178.56" y1="219.20000000000002" x2="178.56" y2="223.3" stroke="#000" stroke-width="2.0"/>
<line x1="199.00" y1="219.20000000000002" x2="199.00" y2="223.3" stroke="#000" stroke-width="2.0"/>
<line x1="219.43" y1="219.20000000000002" x2="219.43" y2="223.3" stroke="#000" stroke-width="2.0"/>
<line x1="239.86" y1="219.20000000000002" x2="239.86" y2="223.3" stroke="#000" stroke-width="2.0"/>
<line x1="260.29" y1="219.20000000000002" x2="260.29" y2="223.3" stroke="#000" stroke-width="2.0"/>
<line x1="280.73" y1="219.20000000000002" x2="280.73" y2="223.3" stroke="#000" stroke-width="2.0"/>
<line x1="301.16" y1="219.20000000000002" x2="301.16" y2="223.3" stroke="#000" stroke-width="2.0"/>
<line x1="321.59" y1="219.20000000000002" x2="321.59" y2="223.3" stroke="#000" stroke-width="2.0"/>
<line x1="64.90" y1="217.10" x2="68.9" y2="217.10" stroke="#000" stroke-width="1.9"/>
<line x1="66.40" y1="207.92" x2="68.9" y2="207.92" stroke="#000" stroke-width="1.9"/>
<line x1="66.40" y1="198.74" x2="68.9" y2="198.74" stroke="#000" stroke-width="1.9"/>
<line x1="66.40" y1="189.56" x2="68.9" y2="189.56" stroke="#000" stroke-width="1.9"/>
<line x1="66.40" y1="180.38" x2="68.9" y2="180.38" stroke="#000" stroke-width="1.9"/>
<line x1="65.90" y1="171.20" x2="68.9" y2="171.20" stroke="#000" stroke-width="1.9"/>
<line x1="66.40" y1="162.02" x2="68.9" y2="162.02" stroke="#000" stroke-width="1.9"/>
<line x1="66.40" y1="152.84" x2="68.9" y2="152.84" stroke="#000" stroke-width="1.9"/>
<line x1="66.40" y1="143.66" x2="68.9" y2="143.66" stroke="#000" stroke-width="1.9"/>
<line x1="66.40" y1="134.48" x2="68.9" y2="134.48" stroke="#000" stroke-width="1.9"/>
<line x1="64.90" y1="125.30" x2="68.9" y2="125.30" stroke="#000" stroke-width="1.9"/>
<rect x="68.9" y="230.9" width="260.4" height="94.4" fill="none" stroke="#000" stroke-width="2.0"/>
<line x1="76.40" y1="323.7" x2="76.40" y2="327.8" stroke="#000" stroke-width="2.0"/>
<line x1="96.83" y1="323.7" x2="96.83" y2="327.8" stroke="#000" stroke-width="2.0"/>
<line x1="117.27" y1="323.7" x2="117.27" y2="327.8" stroke="#000" stroke-width="2.0"/>
<line x1="137.70" y1="323.7" x2="137.70" y2="327.8" stroke="#000" stroke-width="2.0"/>
<line x1="158.13" y1="323.7" x2="158.13" y2="327.8" stroke="#000" stroke-width="2.0"/>
<line x1="178.56" y1="323.7" x2="178.56" y2="327.8" stroke="#000" stroke-width="2.0"/>
<line x1="199.00" y1="323.7" x2="199.00" y2="327.8" stroke="#000" stroke-width="2.0"/>
<line x1="219.43" y1="323.7" x2="219.43" y2="327.8" stroke="#000" stroke-width="2.0"/>
<line x1="239.86" y1="323.7" x2="239.86" y2="327.8" stroke="#000" stroke-width="2.0"/>
<line x1="260.29" y1="323.7" x2="260.29" y2="327.8" stroke="#000" stroke-width="2.0"/>
<line x1="280.73" y1="323.7" x2="280.73" y2="327.8" stroke="#000" stroke-width="2.0"/>
<line x1="301.16" y1="323.7" x2="301.16" y2="327.8" stroke="#000" stroke-width="2.0"/>
<line x1="321.59" y1="323.7" x2="321.59" y2="327.8" stroke="#000" stroke-width="2.0"/>
<line x1="64.90" y1="321.60" x2="68.9" y2="321.60" stroke="#000" stroke-width="1.9"/>
<line x1="66.40" y1="312.53" x2="68.9" y2="312.53" stroke="#000" stroke-width="1.9"/>
<line x1="66.40" y1="303.46" x2="68.9" y2="303.46" stroke="#000" stroke-width="1.9"/>
<line x1="66.40" y1="294.39" x2="68.9" y2="294.39" stroke="#000" stroke-width="1.9"/>
<line x1="66.40" y1="285.32" x2="68.9" y2="285.32" stroke="#000" stroke-width="1.9"/>
<line x1="65.90" y1="276.25" x2="68.9" y2="276.25" stroke="#000" stroke-width="1.9"/>
<line x1="66.40" y1="267.18" x2="68.9" y2="267.18" stroke="#000" stroke-width="1.9"/>
<line x1="66.40" y1="258.11" x2="68.9" y2="258.11" stroke="#000" stroke-width="1.9"/>
<line x1="66.40" y1="249.04" x2="68.9" y2="249.04" stroke="#000" stroke-width="1.9"/>
<line x1="66.40" y1="239.97" x2="68.9" y2="239.97" stroke="#000" stroke-width="1.9"/>
<line x1="64.90" y1="230.90" x2="68.9" y2="230.90" stroke="#000" stroke-width="1.9"/>
<rect x="417.0" y="21.2" width="260.70000000000005" height="94.8" fill="none" stroke="#000" stroke-width="2.0"/>
<line x1="424.10" y1="114.4" x2="424.10" y2="118.5" stroke="#000" stroke-width="2.0"/>
<line x1="444.50" y1="114.4" x2="444.50" y2="118.5" stroke="#000" stroke-width="2.0"/>
<line x1="464.90" y1="114.4" x2="464.90" y2="118.5" stroke="#000" stroke-width="2.0"/>
<line x1="485.30" y1="114.4" x2="485.30" y2="118.5" stroke="#000" stroke-width="2.0"/>
<line x1="505.70" y1="114.4" x2="505.70" y2="118.5" stroke="#000" stroke-width="2.0"/>
<line x1="526.10" y1="114.4" x2="526.10" y2="118.5" stroke="#000" stroke-width="2.0"/>
<line x1="546.50" y1="114.4" x2="546.50" y2="118.5" stroke="#000" stroke-width="2.0"/>
<line x1="566.90" y1="114.4" x2="566.90" y2="118.5" stroke="#000" stroke-width="2.0"/>
<line x1="587.30" y1="114.4" x2="587.30" y2="118.5" stroke="#000" stroke-width="2.0"/>
<line x1="607.70" y1="114.4" x2="607.70" y2="118.5" stroke="#000" stroke-width="2.0"/>
<line x1="628.10" y1="114.4" x2="628.10" y2="118.5" stroke="#000" stroke-width="2.0"/>
<line x1="648.50" y1="114.4" x2="648.50" y2="118.5" stroke="#000" stroke-width="2.0"/>
<line x1="668.90" y1="114.4" x2="668.90" y2="118.5" stroke="#000" stroke-width="2.0"/>
<line x1="412.80" y1="111.30" x2="417.0" y2="111.30" stroke="#000" stroke-width="1.9"/>
<line x1="413.40" y1="94.10" x2="417.0" y2="94.10" stroke="#000" stroke-width="1.9"/>
<line x1="412.80" y1="76.90" x2="417.0" y2="76.90" stroke="#000" stroke-width="1.9"/>
<line x1="413.40" y1="59.70" x2="417.0" y2="59.70" stroke="#000" stroke-width="1.9"/>
<line x1="412.80" y1="42.50" x2="417.0" y2="42.50" stroke="#000" stroke-width="1.9"/>
<line x1="413.40" y1="25.30" x2="417.0" y2="25.30" stroke="#000" stroke-width="1.9"/>
<rect x="417.0" y="124.0" width="260.70000000000005" height="96.1" fill="none" stroke="#000" stroke-width="2.0"/>
<line x1="424.10" y1="218.5" x2="424.10" y2="222.6" stroke="#000" stroke-width="2.0"/>
<line x1="444.50" y1="218.5" x2="444.50" y2="222.6" stroke="#000" stroke-width="2.0"/>
<line x1="464.90" y1="218.5" x2="464.90" y2="222.6" stroke="#000" stroke-width="2.0"/>
<line x1="485.30" y1="218.5" x2="485.30" y2="222.6" stroke="#000" stroke-width="2.0"/>
<line x1="505.70" y1="218.5" x2="505.70" y2="222.6" stroke="#000" stroke-width="2.0"/>
<line x1="526.10" y1="218.5" x2="526.10" y2="222.6" stroke="#000" stroke-width="2.0"/>
<line x1="546.50" y1="218.5" x2="546.50" y2="222.6" stroke="#000" stroke-width="2.0"/>
<line x1="566.90" y1="218.5" x2="566.90" y2="222.6" stroke="#000" stroke-width="2.0"/>
<line x1="587.30" y1="218.5" x2="587.30" y2="222.6" stroke="#000" stroke-width="2.0"/>
<line x1="607.70" y1="218.5" x2="607.70" y2="222.6" stroke="#000" stroke-width="2.0"/>
<line x1="628.10" y1="218.5" x2="628.10" y2="222.6" stroke="#000" stroke-width="2.0"/>
<line x1="648.50" y1="218.5" x2="648.50" y2="222.6" stroke="#000" stroke-width="2.0"/>
<line x1="668.90" y1="218.5" x2="668.90" y2="222.6" stroke="#000" stroke-width="2.0"/>
<line x1="412.80" y1="215.20" x2="417.0" y2="215.20" stroke="#000" stroke-width="1.9"/>
<line x1="413.40" y1="198.02" x2="417.0" y2="198.02" stroke="#000" stroke-width="1.9"/>
<line x1="412.80" y1="180.85" x2="417.0" y2="180.85" stroke="#000" stroke-width="1.9"/>
<line x1="413.40" y1="163.68" x2="417.0" y2="163.68" stroke="#000" stroke-width="1.9"/>
<line x1="412.80" y1="146.50" x2="417.0" y2="146.50" stroke="#000" stroke-width="1.9"/>
<line x1="413.40" y1="129.32" x2="417.0" y2="129.32" stroke="#000" stroke-width="1.9"/>
<rect x="417.0" y="228.7" width="260.70000000000005" height="95.0" fill="none" stroke="#000" stroke-width="2.0"/>
<line x1="424.10" y1="322.09999999999997" x2="424.10" y2="326.2" stroke="#000" stroke-width="2.0"/>
<line x1="444.50" y1="322.09999999999997" x2="444.50" y2="326.2" stroke="#000" stroke-width="2.0"/>
<line x1="464.90" y1="322.09999999999997" x2="464.90" y2="326.2" stroke="#000" stroke-width="2.0"/>
<line x1="485.30" y1="322.09999999999997" x2="485.30" y2="326.2" stroke="#000" stroke-width="2.0"/>
<line x1="505.70" y1="322.09999999999997" x2="505.70" y2="326.2" stroke="#000" stroke-width="2.0"/>
<line x1="526.10" y1="322.09999999999997" x2="526.10" y2="326.2" stroke="#000" stroke-width="2.0"/>
<line x1="546.50" y1="322.09999999999997" x2="546.50" y2="326.2" stroke="#000" stroke-width="2.0"/>
<line x1="566.90" y1="322.09999999999997" x2="566.90" y2="326.2" stroke="#000" stroke-width="2.0"/>
<line x1="587.30" y1="322.09999999999997" x2="587.30" y2="326.2" stroke="#000" stroke-width="2.0"/>
<line x1="607.70" y1="322.09999999999997" x2="607.70" y2="326.2" stroke="#000" stroke-width="2.0"/>
<line x1="628.10" y1="322.09999999999997" x2="628.10" y2="326.2" stroke="#000" stroke-width="2.0"/>
<line x1="648.50" y1="322.09999999999997" x2="648.50" y2="326.2" stroke="#000" stroke-width="2.0"/>
<line x1="668.90" y1="322.09999999999997" x2="668.90" y2="326.2" stroke="#000" stroke-width="2.0"/>
<line x1="412.80" y1="320.00" x2="417.0" y2="320.00" stroke="#000" stroke-width="1.9"/>
<line x1="413.40" y1="302.85" x2="417.0" y2="302.85" stroke="#000" stroke-width="1.9"/>
<line x1="412.80" y1="285.70" x2="417.0" y2="285.70" stroke="#000" stroke-width="1.9"/>
<line x1="413.40" y1="268.55" x2="417.0" y2="268.55" stroke="#000" stroke-width="1.9"/>
<line x1="412.80" y1="251.40" x2="417.0" y2="251.40" stroke="#000" stroke-width="1.9"/>
<line x1="413.40" y1="234.25" x2="417.0" y2="234.25" stroke="#000" stroke-width="1.9"/>
<text x="114.6" y="15.6" font-size="16" text-anchor="middle" >GS-GHP</text>
<text x="245.0" y="15.6" font-size="16" text-anchor="middle" >MPHPV</text>
<text x="461.3" y="15.6" font-size="16" text-anchor="middle" >GS-GHP</text>
<text x="595.8" y="15.6" font-size="16" text-anchor="middle" >MPHPV</text>
<text x="77.4" y="344.8" font-size="16" text-anchor="middle" >1.5</text>
<text x="425.4" y="343.3" font-size="16.4" text-anchor="middle" >1.5</text>
<text x="118.3" y="344.8" font-size="16" text-anchor="middle" >2.0</text>
<text x="466.2" y="343.3" font-size="16.4" text-anchor="middle" >2.0</text>
<text x="159.1" y="344.8" font-size="16" text-anchor="middle" >2.5</text>
<text x="507.0" y="343.3" font-size="16.4" text-anchor="middle" >2.5</text>
<text x="200.0" y="344.8" font-size="16" text-anchor="middle" >3.0</text>
<text x="547.8" y="343.3" font-size="16.4" text-anchor="middle" >3.0</text>
<text x="240.9" y="344.8" font-size="16" text-anchor="middle" >3.5</text>
<text x="588.6" y="343.3" font-size="16.4" text-anchor="middle" >3.5</text>
<text x="281.7" y="344.8" font-size="16" text-anchor="middle" >4.0</text>
<text x="629.4" y="343.3" font-size="16.4" text-anchor="middle" >4.0</text>
<text x="322.6" y="344.8" font-size="16" text-anchor="middle" >4.5</text>
<text x="670.2" y="343.3" font-size="16.4" text-anchor="middle" >4.5</text>
<text x="207.4" y="363.7" font-size="16.4" text-anchor="middle" >Retention time (min)</text>
<text x="557.0" y="360.7" font-size="17.15" text-anchor="middle" >Retention time (min)</text>
<text transform="translate(58.2,26.5) scale(1.05,1)" font-size="15.5" text-anchor="end" >10</text>
<text x="58.0" y="21.6" font-size="10" text-anchor="start" >6</text>
<text x="59.7" y="118.25" font-size="15.5" text-anchor="end" >0</text>
<text transform="translate(57.9,136.75) scale(1.05,1)" font-size="15.5" text-anchor="end" >10</text>
<text x="56.9" y="131.6" font-size="10" text-anchor="start" >6</text>
<text x="59.7" y="224.05" font-size="15.5" text-anchor="end" >0</text>
<text transform="translate(58.5,240.65) scale(1.05,1)" font-size="15.5" text-anchor="end" >10</text>
<text x="57.6" y="234.9" font-size="10" text-anchor="start" >6</text>
<text x="59.7" y="328.45" font-size="15.5" text-anchor="end" >0</text>
<text transform="translate(41.6,66.1) rotate(-90) scale(1,1)" font-size="17" text-anchor="middle" >(count)</text>
<text transform="translate(41.6,174.5) rotate(-90) scale(1,1)" font-size="17" text-anchor="middle" >(count)</text>
<text transform="translate(41.6,273.3) rotate(-90) scale(1,1)" font-size="17" text-anchor="middle" >(count)</text>
<text transform="translate(15.8,182.2) rotate(-90) scale(1.085,1)" font-size="16" text-anchor="middle" >Mass detector response</text>
<text transform="translate(410.2,117.2) scale(1.08,1)" font-size="16" text-anchor="end" >0.0</text>
<text transform="translate(410.2,82.8) scale(1.08,1)" font-size="16" text-anchor="end" >1.0</text>
<text transform="translate(410.2,48.4) scale(1.08,1)" font-size="16" text-anchor="end" >2.0</text>
<text transform="translate(410.2,221.1) scale(1.08,1)" font-size="16" text-anchor="end" >0.0</text>
<text transform="translate(410.2,186.8) scale(1.08,1)" font-size="16" text-anchor="end" >1.0</text>
<text transform="translate(410.2,152.4) scale(1.08,1)" font-size="16" text-anchor="end" >2.0</text>
<text transform="translate(410.2,325.9) scale(1.08,1)" font-size="16" text-anchor="end" >0.0</text>
<text transform="translate(410.2,291.6) scale(1.08,1)" font-size="16" text-anchor="end" >1.0</text>
<text transform="translate(410.2,257.3) scale(1.08,1)" font-size="16" text-anchor="end" >2.0</text>
<text transform="translate(383.0,78.1) rotate(-90) scale(1.06,1)" font-size="16.5" text-anchor="middle" >(AU)</text>
<text transform="translate(383.0,158.8) rotate(-90) scale(1.06,1)" font-size="16.5" text-anchor="middle" >(AU)</text>
<text transform="translate(383.0,263.8) rotate(-90) scale(1.06,1)" font-size="16.5" text-anchor="middle" >(AU)</text>
<text transform="translate(361.8,177.0) rotate(-90) scale(1.06,1)" font-size="16" text-anchor="middle" >UV detector response</text>
<text x="74.0" y="39.6" font-size="17" text-anchor="start" >(i) MPHPV / GST4</text>
<text x="74.0" y="143.6" font-size="17" text-anchor="start" >(ii) MPHPV / GST5</text>
<text x="74.0" y="248.2" font-size="17" text-anchor="start" >(iii) MPHPV</text>
<text x="98.2" y="268.8" font-size="17" text-anchor="start" >/ No enzyme</text>
<text x="421.0" y="38.2" font-size="17.1" text-anchor="start" >(iv) MPHPV / GST4</text>
<text x="421.0" y="141.5" font-size="17.15" text-anchor="start" >(v) MPHPV / GST5</text>
<text x="421.0" y="246.7" font-size="17" text-anchor="start" >(vi) MPHPV</text>
<text x="444.6" y="267.9" font-size="17" text-anchor="start" >/ No enzyme</text>
<text x="87.2" y="69.7" font-size="13.6"><tspan font-style="italic">t</tspan><tspan font-style="italic" dy="2.6" font-size="13.4">R</tspan><tspan dy="-2.6"> = 1.9 min</tspan></text>
<text x="95.6" y="85.4" font-size="13.6" text-anchor="start" >500.1 m/z</text>
<text x="91.0" y="193.6" font-size="13.6" text-anchor="start" >500.1 m/z</text>
<text x="432.2" y="66.0" font-size="13.6"><tspan font-style="italic">t</tspan><tspan font-style="italic" dy="2.6" font-size="13.4">R</tspan><tspan dy="-2.6"> = 1.9 min</tspan></text>
<text x="511.2" y="86.3" font-size="16.1" text-anchor="start" >guaiacol</text>
</svg>
</body></html>
